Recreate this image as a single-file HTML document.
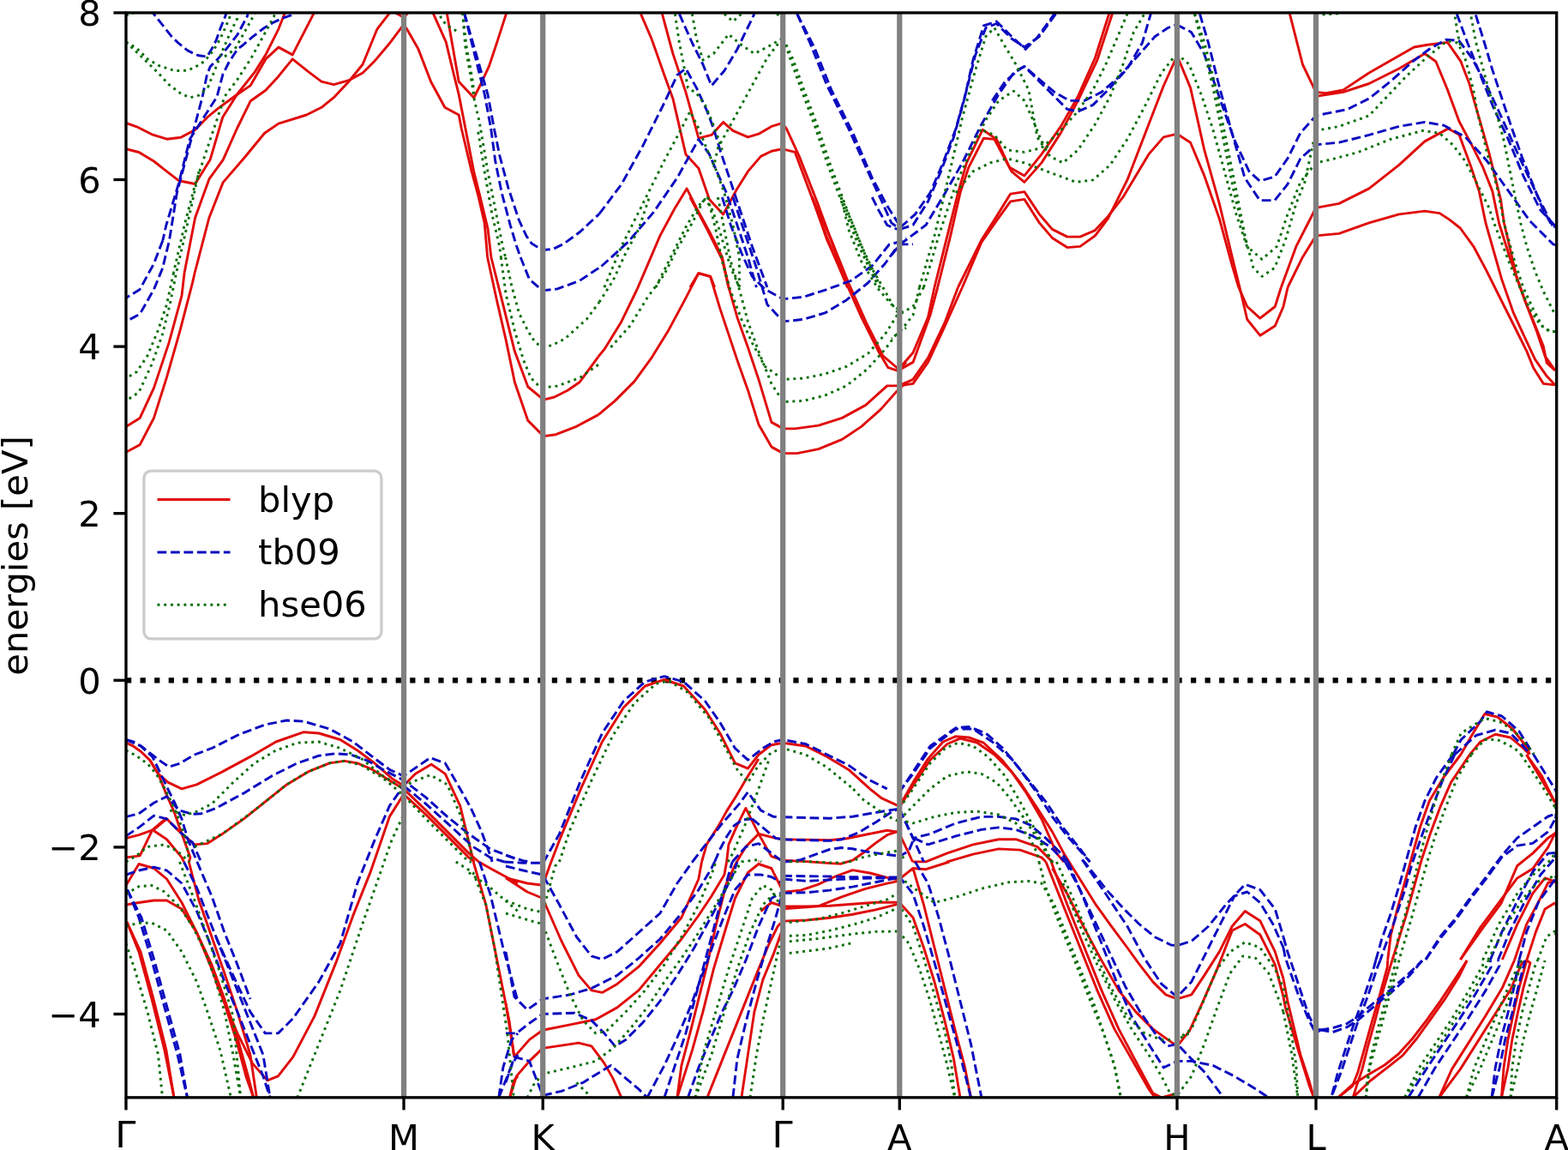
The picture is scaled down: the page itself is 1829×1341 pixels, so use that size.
<!DOCTYPE html><html><head><meta charset="utf-8"><style>html,body{margin:0;padding:0;background:#fff;}svg{display:block;}text{font-family:"DejaVu Sans","Liberation Sans",sans-serif;}</style></head><body>
<svg xmlns="http://www.w3.org/2000/svg" width="1829" height="1341" viewBox="0 0 1829 1341">
<defs><clipPath id="c"><rect x="147.0" y="14.9" width="1668.7" height="1264.8999999999999"/></clipPath></defs>
<rect width="1829" height="1341" fill="#fff"/>
<line x1="147.0" y1="793.3" x2="1815.7" y2="793.3" stroke="#000" stroke-width="6.25" stroke-dasharray="6.25 10.31"/>
<g clip-path="url(#c)" stroke-linejoin="round" stroke-linecap="butt">
<polyline stroke="#e00a0a" stroke-width="2.92" fill="none" points="147.0,143.4 159.5,147.8 178.3,157.2 194.6,162.2 210.9,160.3 227.2,151.6 242.2,136.5 253.5,127.1 274.8,111.5 292.3,99.6 309.9,68.9 324.9,55.1 341.2,63.9 365.6,16.3 367.5,10.0"/>
<polyline stroke="#e00a0a" stroke-width="2.92" fill="none" points="147.0,173.7 162.0,177.5 179.5,188.0 190.0,196.4 208.8,210.8 227.6,214.5 245.1,186.3 259.8,136.5 277.3,109.0 297.3,83.9 309.9,63.9 324.9,33.8 331.8,16.3 332.4,10.0"/>
<polyline stroke="#e00a0a" stroke-width="2.92" fill="none" points="215.1,318.0 227.6,254.0 243.9,208.9 260.2,186.3 276.4,150.0 292.3,117.7 309.9,105.2 324.9,88.9 341.2,68.9 360.0,83.9 375.0,95.2 389.4,98.7 406.9,93.7 423.1,85.0 436.9,71.2 440.0,67.6 453.8,51.3 468.8,31.3 473.8,32.6 487.6,56.4 502.6,95.2 518.9,125.3 535.2,134.0 538.3,150.0"/>
<polyline stroke="#e00a0a" stroke-width="2.92" fill="none" points="227.2,318.0 243.9,254.0 260.2,212.6 285.2,183.8 308.6,155.3 324.9,144.1 357.5,134.0 375.0,125.3 389.4,113.7 406.9,95.0 423.1,75.0 440.0,33.8 456.6,12.3"/>
<polyline stroke="#e00a0a" stroke-width="2.92" fill="none" points="456.6,12.3 471.3,20.6 477.6,12.5"/>
<polyline stroke="#e00a0a" stroke-width="2.92" fill="none" points="503.9,12.5 520.2,48.8 527.7,80.2 535.2,110.2 542.7,148.9"/>
<polyline stroke="#e00a0a" stroke-width="2.92" fill="none" points="520.8,12.5 526.4,45.1 535.2,95.2 552.8,114.0 560.3,99.0 570.3,77.7 580.3,47.6 591.6,12.5"/>
<polyline stroke="#e00a0a" stroke-width="2.92" fill="none" points="538.3,150.0 550.2,200.1 557.7,227.7 565.2,260.2 568.6,300.0"/>
<polyline stroke="#e00a0a" stroke-width="2.92" fill="none" points="542.7,148.9 552.7,200.1 560.2,230.2 569.0,266.5 572.9,300.0"/>
<polyline stroke="#e00a0a" stroke-width="2.92" fill="none" points="568.6,300.0 579.8,351.5 590.1,396.1 600.4,445.8 615.8,490.4 631.3,505.9 636.4,508.4 648.4,506.7 672.4,497.3 698.0,483.6"/>
<polyline stroke="#e00a0a" stroke-width="2.92" fill="none" points="572.9,300.0 586.7,354.9 600.4,409.8 615.8,451.0 631.3,463.8 636.4,465.6 646.7,463.0 662.1,455.3 675.9,445.8 698.0,415.8"/>
<polyline stroke="#e00a0a" stroke-width="2.92" fill="none" points="747.4,16.2 759.9,45.0 774.9,87.5 784.9,114.9 792.4,147.4 799.9,179.9 814.9,196.2 827.4,232.4 843.6,249.9 859.9,219.9 872.4,199.9 887.4,182.4 899.9,176.2 912.3,173.7 927.3,177.4 949.8,237.4 964.8,277.4 988.6,335.1"/>
<polyline stroke="#e00a0a" stroke-width="2.92" fill="none" points="772.4,16.2 784.9,62.5 799.9,107.4 814.9,161.2 829.9,157.4 843.6,142.4 854.9,152.4 872.4,159.9 884.9,156.2 899.9,147.4 912.3,143.7 917.3,149.9 932.3,182.4 954.8,239.9 984.8,322.3 988.6,335.1"/>
<polyline stroke="#e00a0a" stroke-width="2.92" fill="none" points="804.9,335.1 814.9,318.6 828.6,322.3 833.6,335.1"/>
<polyline stroke="#e00a0a" stroke-width="2.92" fill="none" points="743.1,337.5 769.9,274.9 787.4,242.4 801.1,219.9 812.4,242.4 827.4,269.9 842.4,299.9 849.9,335.1"/>
<polyline stroke="#e00a0a" stroke-width="2.92" fill="none" points="698.0,415.8 704.9,407.4 724.9,374.9 743.1,337.5"/>
<polyline stroke="#e00a0a" stroke-width="2.92" fill="none" points="698.0,483.6 717.4,467.4 739.9,444.9 759.9,417.4 779.9,384.9 797.4,352.4 814.9,318.7 828.6,322.5 839.9,359.9 849.9,389.9 859.9,419.9 872.4,454.9 884.9,494.9 899.9,521.1 913.6,528.6 929.8,528.6 954.8,523.6 982.3,512.4 1004.8,497.4 1027.3,477.4 1047.3,454.9 1057.0,446.1"/>
<polyline stroke="#e00a0a" stroke-width="2.92" fill="none" points="804.9,230.0 824.9,267.5 842.4,302.5 849.9,334.9 859.9,369.9 872.4,404.9 884.9,442.4 899.9,492.4 913.6,499.9 927.3,499.9 954.8,496.1 982.3,487.4 1009.8,472.4 1034.8,449.9 1047.3,449.9 1057.0,446.1"/>
<polyline stroke="#e00a0a" stroke-width="2.92" fill="none" points="947.3,230.0 964.8,280.0 984.8,325.0 1004.8,369.9 1024.8,409.9 1036.0,428.7 1047.3,432.4 1057.0,422.4"/>
<polyline stroke="#e00a0a" stroke-width="2.92" fill="none" points="947.3,230.0 969.8,280.0 989.8,330.0 1009.8,374.9 1029.8,414.9 1048.3,430.5"/>
<polyline stroke="#e00a0a" stroke-width="2.92" fill="none" points="1090.0,335.0 1105.0,274.9 1117.5,224.9 1127.5,189.9 1146.2,151.2 1162.4,162.4 1177.4,194.9 1194.9,204.9 1214.9,179.9 1237.4,147.4 1257.4,112.4 1277.4,67.5 1293.6,16.2 1299.2,5.0"/>
<polyline stroke="#e00a0a" stroke-width="2.92" fill="none" points="1093.7,335.0 1108.7,274.9 1120.0,224.9 1130.0,194.9 1147.4,161.2 1159.9,162.4 1179.9,199.9 1194.9,212.4 1214.9,189.9 1237.4,154.9 1257.4,117.4 1279.9,70.0 1297.4,16.2 1299.2,5.0"/>
<polyline stroke="#e00a0a" stroke-width="2.92" fill="none" points="1117.5,335.0 1130.0,309.8 1144.9,279.9 1162.4,252.4 1178.7,226.1 1194.9,223.6 1212.4,249.9 1227.4,267.4 1244.9,276.1 1259.9,276.1 1277.4,268.6 1292.4,252.4 1309.9,229.9 1339.9,179.9 1357.3,159.9 1373.1,156.2 1388.6,166.2 1404.8,204.9 1422.3,254.9 1437.3,309.8 1444.8,335.0"/>
<polyline stroke="#e00a0a" stroke-width="2.92" fill="none" points="1122.5,335.0 1144.9,282.4 1162.4,257.4 1178.7,234.9 1194.9,232.4 1212.4,259.9 1227.4,277.4 1244.9,288.6 1259.9,287.4 1277.4,274.9 1292.4,254.9 1314.9,209.9 1339.9,144.9 1357.3,100.0 1373.1,65.0 1388.6,102.4 1404.8,174.9 1422.3,237.4 1437.3,299.9 1446.0,335.0"/>
<polyline stroke="#e00a0a" stroke-width="2.92" fill="none" points="1504.4,16.2 1519.4,75.0 1534.9,107.4 1546.9,108.7 1566.9,104.9 1596.9,85.0 1631.9,65.0 1649.4,55.0 1665.2,52.3 1688.5,49.4 1704.0,71.7 1713.7,96.9 1721.4,124.1 1729.2,151.2 1736.9,178.3 1744.7,209.4 1750.5,232.6 1754.4,260.0 1769.3,324.2 1782.8,361.0 1792.5,386.3 1802.2,415.4 1813.9,431.9"/>
<polyline stroke="#e00a0a" stroke-width="2.92" fill="none" points="1534.9,112.4 1566.9,107.4 1596.9,97.5 1631.9,80.0 1661.9,62.5 1674.9,71.7 1688.5,104.7 1702.0,141.5 1717.5,170.6 1729.2,193.8 1740.8,222.9 1748.5,260.0 1761.0,300.0 1779.0,351.3 1788.7,374.6 1800.3,403.7 1804.2,423.1 1813.9,431.9"/>
<polyline stroke="#e00a0a" stroke-width="2.92" fill="none" points="1494.4,335.0 1511.9,287.4 1534.9,242.4 1561.9,237.4 1596.9,219.9 1631.9,192.4 1661.9,164.9 1689.3,149.9 1702.0,157.0 1715.6,193.8 1725.3,222.9 1733.0,260.0 1751.8,326.1 1765.4,364.9 1777.0,390.1 1790.6,419.2 1804.2,438.6 1813.9,448.9"/>
<polyline stroke="#e00a0a" stroke-width="2.92" fill="none" points="1502.1,335.0 1519.4,299.9 1534.9,274.9 1561.9,272.4 1596.9,259.9 1631.9,249.9 1661.9,246.1 1679.3,248.6 1690.4,255.9 1703.3,266.0 1718.8,287.3 1734.3,316.4 1749.8,347.5 1765.4,378.5 1780.9,409.6 1788.7,429.0 1800.3,447.4 1813.9,448.9"/>
<polyline stroke="#e00a0a" stroke-width="2.92" fill="none" points="215.1,318.0 212.0,344.9 197.0,399.9 179.5,452.4 163.2,487.4 147.0,497.4"/>
<polyline stroke="#e00a0a" stroke-width="2.92" fill="none" points="227.2,318.0 224.5,329.9 209.5,387.4 194.5,439.9 179.5,487.4 163.2,518.6 147.0,527.3"/>
<polyline stroke="#e00a0a" stroke-width="2.92" fill="none" points="1090.0,335.0 1082.5,370.0 1065.0,411.2 1048.3,430.5"/>
<polyline stroke="#e00a0a" stroke-width="2.92" fill="none" points="1093.7,335.0 1085.0,367.5 1065.0,422.4 1049.2,431.2"/>
<polyline stroke="#e00a0a" stroke-width="2.92" fill="none" points="1117.5,335.0 1102.5,375.0 1082.5,417.4 1065.0,442.4 1049.2,449.9"/>
<polyline stroke="#e00a0a" stroke-width="2.92" fill="none" points="1122.5,335.0 1100.0,385.0 1082.5,422.4 1065.0,447.4 1049.2,449.9"/>
<polyline stroke="#e00a0a" stroke-width="2.92" fill="none" points="1444.8,335.0 1454.8,357.5 1469.8,371.2 1487.3,357.5 1494.4,335.0"/>
<polyline stroke="#e00a0a" stroke-width="2.92" fill="none" points="1446.0,335.0 1454.8,372.5 1469.8,391.2 1487.3,380.0 1497.0,357.5 1502.1,335.0"/>
<polyline stroke="#e00a0a" stroke-width="2.92" fill="none" points="147.0,866.2 155.7,870.2 164.5,876.5 175.2,886.9 184.7,902.7 196.2,912.4 212.0,919.9 229.5,914.9 259.4,899.9 291.9,882.4 321.9,865.0 354.4,853.7 371.9,855.0 396.9,862.5 416.9,875.0 436.9,889.9 456.8,907.4 470.8,916.2 484.3,902.4 503.1,891.2 519.3,902.4 536.8,939.9 551.8,1002.4 552.2,1005.0"/>
<polyline stroke="#e00a0a" stroke-width="2.92" fill="none" points="175.2,886.9 184.7,902.7 194.5,927.4 203.2,946.9 210.5,967.9 222.0,999.9 220.3,1005.0"/>
<polyline stroke="#e00a0a" stroke-width="2.92" fill="none" points="147.0,977.4 162.0,973.7 179.5,967.4 194.5,954.9 209.5,969.9 227.0,984.9 242.0,983.6 259.4,972.4 284.4,954.9 309.4,934.9 334.4,914.9 359.4,899.9 384.4,889.9 401.9,887.4 416.9,889.9 434.4,897.4 454.3,909.9 470.8,919.9 496.8,944.9 521.8,969.9 546.8,994.9 558.5,1005.0"/>
<polyline stroke="#e00a0a" stroke-width="2.92" fill="none" points="470.8,926.2 496.8,949.9 521.8,974.9 546.8,999.9 553.6,1005.0"/>
<polyline stroke="#e00a0a" stroke-width="2.92" fill="none" points="179.5,968.7 194.5,978.7 212.0,999.9 214.5,1005.0"/>
<polyline stroke="#e00a0a" stroke-width="2.92" fill="none" points="147.0,999.9 163.2,997.9 177.7,967.9 194.5,953.7"/>
<polyline stroke="#e00a0a" stroke-width="2.92" fill="none" points="251.9,1144.9 276.9,1204.9 294.4,1239.9 311.9,1259.9 324.4,1254.9 341.9,1232.4 366.9,1184.9 391.9,1122.4 411.9,1067.4 431.9,1017.4 454.3,952.4 470.8,926.2"/>
<polyline stroke="#e00a0a" stroke-width="2.92" fill="none" points="148.0,1075.0 162.0,1109.9 177.0,1164.9 192.0,1224.9 203.0,1279.9"/>
<polyline stroke="#e00a0a" stroke-width="2.92" fill="none" points="148.0,1075.0 164.0,1109.9 179.0,1164.9 194.0,1224.9 203.0,1279.9"/>
<polyline stroke="#e00a0a" stroke-width="2.92" fill="none" points="147.0,1055.0 162.0,1052.5 179.5,1050.0 194.5,1050.0 212.0,1060.0 229.5,1087.5 247.0,1129.9 261.9,1169.9 276.9,1217.4 286.9,1254.9 295.7,1279.9"/>
<polyline stroke="#e00a0a" stroke-width="2.92" fill="none" points="147.0,1032.5 162.0,1007.5 179.5,1012.5 194.5,1025.0 212.0,1052.5 229.5,1087.5 247.0,1124.9 261.9,1164.9 276.9,1209.9 289.4,1254.9 295.7,1279.9"/>
<polyline stroke="#e00a0a" stroke-width="2.92" fill="none" points="220.3,1005.0 232.0,1050.0 247.0,1092.5 261.9,1134.9 276.9,1179.9 291.9,1229.9 299.4,1279.9"/>
<polyline stroke="#e00a0a" stroke-width="2.92" fill="none" points="552.2,1005.0 566.8,1055.0 581.8,1129.9 594.3,1192.4 599.3,1229.9 604.0,1232.4"/>
<polyline stroke="#e00a0a" stroke-width="2.92" fill="none" points="558.5,1005.0 571.8,1012.5 604.0,1030.0"/>
<polyline stroke="#e00a0a" stroke-width="2.92" fill="none" points="594.6,1279.9 599.3,1259.9 604.0,1254.9"/>
<polyline stroke="#e00a0a" stroke-width="2.92" fill="none" points="642.9,1005.0 652.5,979.9 677.5,919.9 702.4,865.0 727.4,825.0 736.8,815.6 752.4,800.0 774.9,792.5 797.4,800.0 822.4,827.5 839.9,855.0 857.4,889.9 872.4,896.2 884.9,880.0 899.8,868.7 913.1,866.2 939.8,870.0 964.8,882.4 989.8,897.4 1014.4,919.6"/>
<polyline stroke="#e00a0a" stroke-width="2.92" fill="none" points="818.5,1005.0 824.4,984.4 837.9,963.4 847.6,945.9 857.4,930.4 872.4,904.9 884.9,884.9"/>
<polyline stroke="#e00a0a" stroke-width="2.92" fill="none" points="847.6,1005.0 849.9,984.9 859.9,962.4 869.9,942.4 884.9,972.4 899.8,998.6 913.6,1003.2"/>
<polyline stroke="#e00a0a" stroke-width="2.92" fill="none" points="859.3,1005.0 869.9,987.4 884.9,972.4 904.8,977.4 913.6,978.9"/>
<polyline stroke="#e00a0a" stroke-width="2.92" fill="none" points="884.8,1005.0 884.9,1004.9 885.1,1005.0"/>
<polyline stroke="#e00a0a" stroke-width="2.92" fill="none" points="590.0,1023.7 615.0,1030.0 633.0,1032.2"/>
<polyline stroke="#e00a0a" stroke-width="2.92" fill="none" points="633.0,1032.2 642.9,1005.0"/>
<polyline stroke="#e00a0a" stroke-width="2.92" fill="none" points="590.0,1023.7 615.0,1040.0 633.0,1047.5 655.0,1097.5 675.0,1137.4 690.0,1154.9 702.4,1157.4 719.9,1147.4 744.9,1127.4 769.9,1100.0 794.9,1070.0 814.9,1025.0 818.5,1005.0"/>
<polyline stroke="#e00a0a" stroke-width="2.92" fill="none" points="590.0,1169.9 600.0,1232.4 617.5,1212.4 633.0,1201.2 665.0,1194.9 694.9,1188.7 719.9,1174.9 744.9,1154.9 769.9,1124.9 794.9,1095.0 814.9,1067.5 829.9,1045.0 844.9,1020.0 847.6,1005.0"/>
<polyline stroke="#e00a0a" stroke-width="2.92" fill="none" points="594.6,1279.9 602.5,1254.9 617.5,1237.4 633.0,1222.4 675.0,1216.1 690.0,1219.9 704.9,1239.9 714.9,1257.4 724.9,1279.9"/>
<polyline stroke="#e00a0a" stroke-width="2.92" fill="none" points="789.9,1279.9 794.9,1242.4 804.9,1204.9 814.9,1164.9 824.9,1124.9 834.9,1080.0 847.4,1030.0 859.3,1005.0"/>
<polyline stroke="#e00a0a" stroke-width="2.92" fill="none" points="789.9,1279.9 807.4,1224.9 819.9,1179.9 832.4,1129.9 847.4,1080.0 857.4,1047.5 872.4,1017.5 884.9,1007.5 899.8,1012.5 909.8,1032.5 913.1,1038.7"/>
<polyline stroke="#e00a0a" stroke-width="2.92" fill="none" points="824.9,1279.9 839.9,1242.4 854.9,1204.9 869.9,1167.4 884.9,1129.9 897.3,1100.0 907.3,1080.0 913.1,1074.1"/>
<polyline stroke="#e00a0a" stroke-width="2.92" fill="none" points="864.9,1279.9 872.4,1229.9 879.9,1179.9 889.9,1142.4 902.3,1112.4 913.1,1082.5"/>
<polyline stroke="#e00a0a" stroke-width="2.92" fill="none" points="887.4,1062.5 899.8,1052.5 913.1,1056.9"/>
<polyline stroke="#e00a0a" stroke-width="2.92" fill="none" points="913.1,1007.5 914.1,1007.5"/>
<polyline stroke="#e00a0a" stroke-width="2.92" fill="none" points="913.1,1038.7 913.6,1040.3"/>
<polyline stroke="#e00a0a" stroke-width="2.92" fill="none" points="913.1,1059.9 914.1,1059.9"/>
<polyline stroke="#e00a0a" stroke-width="2.92" fill="none" points="913.1,1063.7 914.1,1059.9"/>
<polyline stroke="#e00a0a" stroke-width="2.92" fill="none" points="913.1,1082.5 914.1,1077.3"/>
<polyline stroke="#e00a0a" stroke-width="2.92" fill="none" points="1047.7,939.7 1049.2,939.9 1065.0,912.4 1082.5,884.9 1100.0,865.0 1115.0,858.7 1130.0,860.0 1147.4,866.2 1169.9,887.4 1189.9,912.4 1209.9,942.4 1227.4,969.9 1241.1,995.4 1241.0,1005.0"/>
<polyline stroke="#e00a0a" stroke-width="2.92" fill="none" points="1049.2,941.2 1065.0,916.2 1085.0,886.2 1105.0,867.5 1120.0,861.2 1140.0,866.2 1159.9,880.0 1179.9,899.9 1197.4,924.9 1214.9,954.9 1232.4,994.9 1241.0,1005.0"/>
<polyline stroke="#e00a0a" stroke-width="2.92" fill="none" points="1064.5,1005.0 1065.0,1004.9 1080.0,1004.9 1105.0,994.9 1135.0,984.9 1164.9,978.7 1184.9,978.7 1209.9,987.4 1227.4,1004.9 1226.2,1005.0"/>
<polyline stroke="#e00a0a" stroke-width="2.92" fill="none" points="1107.3,1005.0 1105.0,1004.9 1135.0,996.1 1164.9,989.9 1189.9,991.1 1214.9,999.9 1220.0,1005.0"/>
<polyline stroke="#e00a0a" stroke-width="2.92" fill="none" points="1047.7,970.4 1049.2,972.4 1060.0,994.9 1064.5,1005.0"/>
<polyline stroke="#e00a0a" stroke-width="2.92" fill="none" points="1047.7,1052.2 1049.2,1052.5 1065.0,1070.0 1077.5,1105.0 1090.0,1144.9 1102.5,1192.4 1112.5,1234.9 1120.0,1279.9"/>
<polyline stroke="#e00a0a" stroke-width="2.92" fill="none" points="1047.7,1025.8 1049.2,1025.0 1065.0,1012.5 1077.5,1055.0 1115.0,1204.9 1125.0,1242.4 1132.5,1279.9"/>
<polyline stroke="#e00a0a" stroke-width="2.92" fill="none" points="1065.0,1012.5 1080.0,1013.7 1107.3,1005.0"/>
<polyline stroke="#e00a0a" stroke-width="2.92" fill="none" points="1241.1,995.5 1259.9,1025.5 1278.4,1055.2 1297.1,1081.2 1314.9,1105.0 1327.4,1122.4 1344.8,1144.9 1359.8,1159.9 1373.1,1164.9 1389.8,1159.9 1404.8,1137.4 1422.3,1109.9 1437.3,1080.0 1452.3,1062.5 1469.8,1073.7 1487.3,1109.9 1497.0,1141.2"/>
<polyline stroke="#e00a0a" stroke-width="2.92" fill="none" points="1227.4,1012.5 1244.9,1042.5 1264.9,1082.5 1284.9,1119.9 1304.9,1154.9 1324.9,1179.9 1344.8,1199.9 1362.3,1212.4 1373.1,1219.9 1387.3,1202.4 1402.3,1169.9 1419.8,1129.9 1437.3,1085.0 1452.3,1077.5 1469.8,1090.0 1487.3,1124.9 1497.0,1162.4"/>
<polyline stroke="#e00a0a" stroke-width="2.92" fill="none" points="1220.0,1005.0 1239.9,1055.0 1259.9,1105.0 1279.9,1154.9 1299.9,1199.9 1319.9,1234.9 1339.9,1269.9 1347.3,1279.9"/>
<polyline stroke="#e00a0a" stroke-width="2.92" fill="none" points="1226.2,1005.0 1244.9,1055.0 1264.9,1105.0 1284.9,1154.9 1304.9,1199.9 1327.4,1242.4 1344.8,1274.9 1354.8,1279.9 1373.1,1274.9"/>
<polyline stroke="#e00a0a" stroke-width="2.92" fill="none" points="1704.2,879.5 1716.8,857.5 1731.8,832.5 1746.8,836.2 1764.3,850.0 1781.8,872.5 1784.2,879.7"/>
<polyline stroke="#e00a0a" stroke-width="2.92" fill="none" points="1814.1,936.9 1815.5,939.9"/>
<polyline stroke="#e00a0a" stroke-width="2.92" fill="none" points="1714.6,879.6 1726.8,865.0 1744.3,856.2 1761.8,860.0 1776.8,872.5 1784.2,879.7"/>
<polyline stroke="#e00a0a" stroke-width="2.92" fill="none" points="1814.1,936.9 1815.5,939.9"/>
<polyline stroke="#e00a0a" stroke-width="2.92" fill="none" points="1814.1,971.9 1815.5,969.9"/>
<polyline stroke="#e00a0a" stroke-width="2.92" fill="none" points="1814.1,971.9 1815.5,969.9"/>
<polyline stroke="#e00a0a" stroke-width="2.92" fill="none" points="1497.0,1141.2 1501.9,1167.4 1516.9,1229.9 1526.9,1259.9 1532.5,1279.9"/>
<polyline stroke="#e00a0a" stroke-width="2.92" fill="none" points="1497.0,1162.4 1499.4,1174.9 1514.4,1224.9 1526.9,1264.9 1532.5,1279.9"/>
<polyline stroke="#e00a0a" stroke-width="2.92" fill="none" points="1814.2,1028.0 1815.5,1028.7"/>
<polyline stroke="#e00a0a" stroke-width="2.92" fill="none" points="1814.1,1028.0 1815.5,1028.7"/>
<polyline stroke="#e00a0a" stroke-width="2.92" fill="none" points="1815.0,1055.2 1814.9,1056.0"/>
<polyline stroke="#e00a0a" stroke-width="2.92" fill="none" points="1814.9,1056.0 1815.0,1055.2"/>
<polyline stroke="#e00a0a" stroke-width="2.92" fill="none" points="913.6,978.9 940.8,979.1 967.7,979.7 987.8,977.7 1014.6,972.3 1034.8,968.3 1047.7,970.4"/>
<polyline stroke="#e00a0a" stroke-width="2.92" fill="none" points="913.6,1003.2 940.8,1004.6 967.7,1006.6 981.1,1007.2 994.5,1003.2 1007.9,993.8 1021.3,983.1 1034.8,973.7 1048.2,969.0"/>
<polyline stroke="#e00a0a" stroke-width="2.92" fill="none" points="913.6,1040.3 934.1,1038.1 954.2,1031.4 974.4,1022.0 994.5,1014.6 1014.6,1018.0 1034.8,1023.4 1047.7,1025.8"/>
<polyline stroke="#e00a0a" stroke-width="2.92" fill="none" points="913.1,1056.9 940.8,1056.9 967.7,1056.2 994.5,1054.2 1021.3,1052.2 1047.7,1052.2"/>
<polyline stroke="#e00a0a" stroke-width="2.92" fill="none" points="913.1,1059.9 954.2,1056.9 981.1,1046.2 1007.9,1036.8 1034.8,1030.1 1048.2,1027.4"/>
<polyline stroke="#e00a0a" stroke-width="2.92" fill="none" points="913.1,1074.1 940.8,1073.0 967.7,1070.3 994.5,1066.3 1021.3,1060.9 1048.2,1054.2"/>
<polyline stroke="#e00a0a" stroke-width="2.92" fill="none" points="1014.4,919.6 1028.1,930.7 1047.7,939.7"/>
<polyline stroke="#e00a0a" stroke-width="2.92" fill="none" points="1704.2,879.5 1683.5,907.0 1667.3,934.0 1656.5,964.5 1629.5,1061.7 1622.3,1090.5 1618.7,1119.5"/>
<polyline stroke="#e00a0a" stroke-width="2.92" fill="none" points="1714.6,879.6 1692.5,912.4 1679.9,941.2 1669.1,969.9 1658.3,1002.3 1640.3,1067.1 1624.0,1119.5"/>
<polyline stroke="#e00a0a" stroke-width="2.92" fill="none" points="1703.5,1119.0 1726.7,1081.5 1769.8,1023.9 1787.8,1013.1 1805.8,987.9 1813.9,971.7"/>
<polyline stroke="#e00a0a" stroke-width="2.92" fill="none" points="1703.5,1119.0 1729.4,1082.4 1750.9,1053.6 1769.8,1009.5 1787.8,995.1 1805.8,977.1 1813.9,971.7"/>
<polyline stroke="#e00a0a" stroke-width="2.92" fill="none" points="1752.3,1119.0 1769.8,1077.9 1787.8,1041.9 1802.2,1023.9 1814.1,1028.0"/>
<polyline stroke="#e00a0a" stroke-width="2.92" fill="none" points="1766.6,1119.5 1780.6,1077.9 1795.0,1050.9 1805.8,1029.3 1814.2,1028.0"/>
<polyline stroke="#e00a0a" stroke-width="2.92" fill="none" points="1780.9,1119.5 1791.4,1086.9 1802.2,1059.9 1813.9,1052.7"/>
<polyline stroke="#e00a0a" stroke-width="2.92" fill="none" points="1780.6,880.0 1796.8,907.0 1813.9,935.8"/>
<polyline stroke="#e00a0a" stroke-width="2.92" fill="none" points="1780.6,880.0 1798.6,905.2 1813.9,935.8"/>
<polyline stroke="#e00a0a" stroke-width="2.92" fill="none" points="1618.7,1119.5 1618.3,1127.6 1608.5,1163.6 1600.3,1191.4 1592.1,1220.8 1583.9,1250.2 1577.4,1266.6 1561.1,1279.6"/>
<polyline stroke="#e00a0a" stroke-width="2.92" fill="none" points="1624.0,1119.5 1621.5,1127.6 1611.7,1160.3 1603.6,1191.4 1595.4,1220.8 1588.9,1246.9 1582.3,1266.6 1578.2,1279.6"/>
<polyline stroke="#e00a0a" stroke-width="2.92" fill="none" points="1561.1,1279.6 1577.4,1264.9 1595.4,1253.5 1615.0,1242.0 1631.4,1229.0 1647.7,1211.0 1664.1,1189.7 1680.4,1166.8 1696.7,1142.3 1711.1,1120.0"/>
<polyline stroke="#e00a0a" stroke-width="2.92" fill="none" points="1578.2,1279.6 1598.7,1260.0 1619.9,1243.7 1636.3,1230.6 1652.6,1211.0 1669.0,1188.1 1685.3,1165.2 1701.7,1139.0 1711.1,1120.0"/>
<polyline stroke="#e00a0a" stroke-width="2.92" fill="none" points="1678.8,1279.6 1693.5,1246.9 1713.1,1215.9 1732.7,1184.8 1752.3,1152.1 1766.6,1119.5"/>
<polyline stroke="#e00a0a" stroke-width="2.92" fill="none" points="1678.8,1279.6 1703.3,1246.9 1722.9,1215.9 1742.5,1184.8 1762.1,1153.8 1775.2,1122.7 1780.9,1120.0"/>
<polyline stroke="#e00a0a" stroke-width="2.92" fill="none" points="1751.5,1279.6 1754.0,1245.3 1758.9,1212.6 1765.4,1181.5 1771.9,1152.1 1780.1,1122.7 1780.9,1119.5"/>
<polyline stroke="#e00a0a" stroke-width="2.92" fill="none" points="1751.5,1279.6 1758.9,1245.3 1763.8,1212.6 1770.3,1181.5 1776.9,1152.1 1785.0,1122.7 1780.9,1120.0"/>
<polyline stroke="#0a0ac0" stroke-width="2.92" fill="none" stroke-dasharray="10.8 4.67" points="175.0,10.0 180.8,18.1 200.0,42.3 207.7,49.9 219.2,59.2 230.7,64.5 241.5,66.1 247.6,56.1 252.2,46.9 256.8,33.8 263.0,18.4 265.3,10.0"/>
<polyline stroke="#0a0ac0" stroke-width="2.92" fill="none" stroke-dasharray="10.8 4.67" points="340.0,17.7 330.6,20.8 319.0,26.1 307.5,33.0 294.5,43.0 282.9,53.0 276.8,57.6 266.8,73.0 259.9,86.8 253.0,113.0 221.3,162.5 208.8,212.6 193.8,262.8 189.9,280.3"/>
<polyline stroke="#0a0ac0" stroke-width="2.92" fill="none" stroke-dasharray="10.8 4.67" points="290.6,10.0 288.3,19.2 276.8,40.7 263.0,58.4 253.8,69.1 245.3,77.6 241.5,86.8 236.1,113.0 206.3,225.2 197.5,280.3 189.6,312.9"/>
<polyline stroke="#0a0ac0" stroke-width="2.92" fill="none" stroke-dasharray="10.8 4.67" points="541.5,15.0 565.3,110.2 572.7,150.0"/>
<polyline stroke="#0a0ac0" stroke-width="2.92" fill="none" stroke-dasharray="10.8 4.67" points="541.5,15.0 569.0,110.2 576.4,150.0"/>
<polyline stroke="#0a0ac0" stroke-width="2.92" fill="none" stroke-dasharray="10.8 4.67" points="572.7,150.0 577.7,187.6 585.3,225.2 595.3,262.8 602.8,287.8 607.2,300.0"/>
<polyline stroke="#0a0ac0" stroke-width="2.92" fill="none" stroke-dasharray="10.8 4.67" points="576.4,150.0 582.8,181.3 592.8,218.9 605.3,256.5 614.1,275.3 620.3,284.1 632.9,291.6 645.4,290.3 657.9,284.1 676.7,270.3 699.0,249.4"/>
<polyline stroke="#0a0ac0" stroke-width="2.92" fill="none" stroke-dasharray="10.8 4.67" points="607.2,300.0 617.5,325.7 629.5,336.0 634.7,338.6 650.1,336.9 675.9,327.4 701.5,310.5"/>
<polyline stroke="#0a0ac0" stroke-width="2.92" fill="none" stroke-dasharray="10.8 4.67" points="699.0,249.4 724.9,214.9 749.9,169.9 774.9,119.9 789.9,87.5 799.9,80.0 812.4,102.4 824.9,129.9 832.4,149.9 839.9,174.9 852.4,212.4 864.9,249.9 877.4,287.4 894.9,335.1"/>
<polyline stroke="#0a0ac0" stroke-width="2.92" fill="none" stroke-dasharray="10.8 4.67" points="701.5,310.5 732.4,282.4 762.4,247.4 789.9,207.4 814.9,162.4 827.4,179.9 834.9,197.4 847.4,224.9 859.9,262.4 872.4,299.9 882.4,335.1"/>
<polyline stroke="#0a0ac0" stroke-width="2.92" fill="none" stroke-dasharray="10.8 4.67" points="792.4,16.2 807.4,50.0 819.9,75.0 829.9,100.0 844.9,82.5 859.9,57.5 879.9,16.2"/>
<polyline stroke="#0a0ac0" stroke-width="2.92" fill="none" stroke-dasharray="10.8 4.67" points="929.8,16.2 944.8,50.0 964.8,100.0 989.8,149.9 1012.3,199.9 1029.8,237.4 1039.8,259.9 1049.9,267.4"/>
<polyline stroke="#0a0ac0" stroke-width="2.92" fill="none" stroke-dasharray="10.8 4.67" points="929.8,16.2 949.8,55.0 969.8,104.9 994.8,154.9 1017.3,207.4 1034.8,239.9 1050.5,264.9"/>
<polyline stroke="#0a0ac0" stroke-width="2.92" fill="none" stroke-dasharray="10.8 4.67" points="1017.3,230.0 1024.8,245.0 1034.8,262.5 1047.3,267.5"/>
<polyline stroke="#0a0ac0" stroke-width="2.92" fill="none" stroke-dasharray="10.8 4.67" points="842.4,230.0 852.4,262.5 864.9,295.0 877.4,322.5 892.4,337.4 913.6,348.7 937.3,346.2 964.8,337.4 992.3,327.5 1017.3,310.0 1037.3,285.0 1047.3,282.5 1057.0,277.5"/>
<polyline stroke="#0a0ac0" stroke-width="2.92" fill="none" stroke-dasharray="10.8 4.67" points="854.9,230.0 864.9,260.0 874.9,290.0 882.4,312.5 894.9,354.9 913.6,374.9 937.3,372.4 962.3,364.9 987.3,349.9 1012.3,330.0 1032.3,307.5 1048.6,284.9"/>
<polyline stroke="#0a0ac0" stroke-width="2.92" fill="none" stroke-dasharray="10.8 4.67" points="1049.9,267.4 1065.0,262.4 1082.5,234.9 1097.5,199.9 1112.5,159.9 1125.0,114.9 1135.0,70.0 1147.4,30.0 1162.4,25.0 1179.9,42.5 1196.2,57.5 1209.9,43.7 1229.9,16.2 1237.4,5.0"/>
<polyline stroke="#0a0ac0" stroke-width="2.92" fill="none" stroke-dasharray="10.8 4.67" points="1050.5,264.9 1067.5,249.9 1085.0,224.9 1100.0,189.9 1115.0,149.9 1127.5,104.9 1137.5,65.0 1149.9,32.5 1162.4,27.5 1179.9,45.0 1194.9,55.0 1212.4,42.5 1232.4,15.0"/>
<polyline stroke="#0a0ac0" stroke-width="2.92" fill="none" stroke-dasharray="10.8 4.67" points="1040.0,297.4 1050.0,284.9 1080.0,262.4 1102.5,224.9 1122.5,189.9 1144.9,144.9 1164.9,109.9 1182.4,85.0 1194.9,77.5 1212.4,92.5 1229.9,107.4 1247.4,117.4 1264.9,117.4 1284.9,107.4 1304.9,90.0 1327.4,65.0 1347.3,42.5 1362.3,32.5 1372.5,28.7"/>
<polyline stroke="#0a0ac0" stroke-width="2.92" fill="none" stroke-dasharray="10.8 4.67" points="1048.6,284.9 1065.0,284.9"/>
<polyline stroke="#0a0ac0" stroke-width="2.92" fill="none" stroke-dasharray="10.8 4.67" points="1157.4,117.4 1172.4,95.0 1189.9,80.0 1194.9,77.5 1214.9,97.5 1229.9,112.4 1244.9,127.4 1257.4,129.9 1274.9,122.4 1294.9,102.4 1314.9,80.0 1332.4,50.0 1342.3,16.2 1346.1,5.0"/>
<polyline stroke="#0a0ac0" stroke-width="2.92" fill="none" stroke-dasharray="10.8 4.67" points="1372.5,28.7 1389.5,37.5 1404.5,62.5 1422.0,112.4 1439.5,162.4 1457.0,199.9 1469.5,211.1 1486.9,206.1 1501.9,184.9 1516.9,154.9 1534.9,134.9 1546.9,132.4 1571.9,127.4 1596.9,114.9 1621.9,95.0 1646.9,72.5 1666.9,57.5 1686.8,46.2 1701.8,47.5 1716.8,67.5 1734.3,100.0 1751.8,137.4 1771.8,182.4 1791.8,224.9 1811.8,264.9 1818.9,268.9"/>
<polyline stroke="#0a0ac0" stroke-width="2.92" fill="none" stroke-dasharray="10.8 4.67" points="1399.5,16.2 1409.5,50.0 1422.0,100.0 1437.0,154.9 1452.0,207.4 1469.5,233.6 1486.9,233.6 1501.9,214.9 1516.9,184.9 1534.9,168.7 1561.9,166.2 1596.9,157.4 1631.9,147.4 1661.9,142.4 1684.3,146.2 1709.3,159.9 1734.3,187.4 1759.3,222.4 1784.3,257.4 1811.8,284.9 1821.8,287.4"/>
<polyline stroke="#0a0ac0" stroke-width="2.92" fill="none" stroke-dasharray="10.8 4.67" points="1699.3,16.2 1711.8,50.0 1726.8,87.5 1741.8,124.9 1759.3,162.4 1776.8,204.9 1796.8,244.9 1815.5,264.9"/>
<polyline stroke="#0a0ac0" stroke-width="2.92" fill="none" stroke-dasharray="10.8 4.67" points="1721.4,17.4 1731.1,48.5 1740.8,81.4 1752.4,116.3 1764.1,151.2 1775.7,184.1 1787.3,213.2 1798.9,242.3 1808.6,260.0 1818.9,268.9"/>
<polyline stroke="#0a0ac0" stroke-width="2.92" fill="none" stroke-dasharray="10.8 4.67" points="189.9,280.3 179.5,307.4 163.2,337.4 147.0,347.4"/>
<polyline stroke="#0a0ac0" stroke-width="2.92" fill="none" stroke-dasharray="10.8 4.67" points="189.6,312.9 179.5,337.4 163.2,366.2 147.0,374.9"/>
<polyline stroke="#0a0ac0" stroke-width="2.92" fill="none" stroke-dasharray="10.8 4.67" points="147.0,862.5 155.7,865.0 164.5,870.0 176.2,879.2 187.0,887.4 197.0,894.2 209.5,890.4 227.0,880.0 247.0,872.5 279.4,856.2 309.4,845.0 334.4,840.0 354.4,841.2 384.4,850.0 411.9,865.0 434.4,882.4 454.3,897.4 470.8,904.9 481.8,897.4 501.8,883.7 519.3,889.9 536.8,919.9 549.3,942.4 561.8,969.9 571.8,997.4 574.1,1005.0"/>
<polyline stroke="#0a0ac0" stroke-width="2.92" fill="none" stroke-dasharray="10.8 4.67" points="147.0,862.5 164.5,870.2 177.7,882.4 185.7,898.7 194.5,917.4 203.2,934.9 212.0,954.9 219.5,979.9 229.9,1005.0"/>
<polyline stroke="#0a0ac0" stroke-width="2.92" fill="none" stroke-dasharray="10.8 4.67" points="147.0,952.4 162.0,948.7 179.5,936.2 194.5,928.7 208.7,944.9 224.5,949.4 235.0,948.7 251.9,942.4 284.4,924.9 316.9,904.9 346.9,889.9 371.9,881.2 391.9,878.7 409.4,880.0 429.4,887.4 446.9,897.4 470.8,909.9 496.8,929.9 521.8,952.4 546.8,972.4 571.8,989.9 604.0,1002.4"/>
<polyline stroke="#0a0ac0" stroke-width="2.92" fill="none" stroke-dasharray="10.8 4.67" points="470.8,916.2 496.8,937.4 521.8,959.9 551.8,987.4 571.8,999.9 588.2,1005.0"/>
<polyline stroke="#0a0ac0" stroke-width="2.92" fill="none" stroke-dasharray="10.8 4.67" points="147.0,974.9 162.0,964.9 179.5,951.2 194.5,954.9 209.5,969.9 224.5,982.4 234.5,1004.9 234.5,1005.0"/>
<polyline stroke="#0a0ac0" stroke-width="2.92" fill="none" stroke-dasharray="10.8 4.67" points="251.9,1092.5 271.9,1137.4 291.9,1179.9 309.4,1204.9 324.4,1204.9 341.9,1187.4 371.9,1144.9 396.9,1100.0 416.9,1029.9 436.9,979.9 454.3,939.9 470.8,916.2"/>
<polyline stroke="#0a0ac0" stroke-width="2.92" fill="none" stroke-dasharray="10.8 4.67" points="148.5,1037.5 162.0,1070.0 177.0,1119.9 192.0,1174.9 207.0,1229.9 218.5,1279.9"/>
<polyline stroke="#0a0ac0" stroke-width="2.92" fill="none" stroke-dasharray="10.8 4.67" points="148.5,1037.5 165.0,1070.0 180.0,1119.9 195.0,1174.9 210.0,1229.9 218.5,1279.9"/>
<polyline stroke="#0a0ac0" stroke-width="2.92" fill="none" stroke-dasharray="10.8 4.67" points="147.0,1020.0 162.0,1015.0 179.5,1011.2 194.5,1015.0 212.0,1030.0 229.5,1062.5 247.0,1105.0 261.9,1144.9 276.9,1179.9 291.9,1217.4 306.9,1254.9 315.0,1279.9"/>
<polyline stroke="#0a0ac0" stroke-width="2.92" fill="none" stroke-dasharray="10.8 4.67" points="214.5,1005.0 229.5,1035.0 247.0,1080.0 261.9,1117.4 276.9,1154.9 291.9,1192.4 306.9,1229.9 315.0,1279.9"/>
<polyline stroke="#0a0ac0" stroke-width="2.92" fill="none" stroke-dasharray="10.8 4.67" points="229.9,1005.0 247.0,1045.0 261.9,1087.5 276.9,1124.9 291.9,1164.9"/>
<polyline stroke="#0a0ac0" stroke-width="2.92" fill="none" stroke-dasharray="10.8 4.67" points="559.3,1005.0 571.8,1042.5 586.8,1105.0 604.0,1167.4"/>
<polyline stroke="#0a0ac0" stroke-width="2.92" fill="none" stroke-dasharray="10.8 4.67" points="581.8,1279.9 586.8,1244.9 596.8,1212.4 604.0,1204.9"/>
<polyline stroke="#0a0ac0" stroke-width="2.92" fill="none" stroke-dasharray="10.8 4.67" points="581.8,1279.9 596.8,1242.4 604.0,1229.9"/>
<polyline stroke="#0a0ac0" stroke-width="2.92" fill="none" stroke-dasharray="10.8 4.67" points="590.0,997.4 610.0,1003.6 618.3,1005.0"/>
<polyline stroke="#0a0ac0" stroke-width="2.92" fill="none" stroke-dasharray="10.8 4.67" points="633.6,1006.2 652.5,972.4 677.5,909.9 702.4,855.0 727.4,817.5 752.4,795.0 774.9,788.7 797.4,795.0 822.4,817.5 839.9,842.5 857.4,872.5 872.4,886.2 889.9,872.5 902.3,865.0 913.1,862.5 939.8,867.5 989.8,892.4 1014.8,909.9 1034.8,919.9"/>
<polyline stroke="#0a0ac0" stroke-width="2.92" fill="none" stroke-dasharray="10.8 4.67" points="807.7,1005.0 816.9,992.9 841.6,961.2 862.4,937.4 872.4,923.7 887.4,944.9 902.3,952.4 913.6,952.7"/>
<polyline stroke="#0a0ac0" stroke-width="2.92" fill="none" stroke-dasharray="10.8 4.67" points="877.4,954.9 904.8,977.4 913.6,978.9"/>
<polyline stroke="#0a0ac0" stroke-width="2.92" fill="none" stroke-dasharray="10.8 4.67" points="854.2,1005.0 869.9,987.4 884.9,983.6 913.1,1004.9 913.6,1005.3"/>
<polyline stroke="#0a0ac0" stroke-width="2.92" fill="none" stroke-dasharray="10.8 4.67" points="588.2,1005.0 610.0,1006.2 633.6,1006.2"/>
<polyline stroke="#0a0ac0" stroke-width="2.92" fill="none" stroke-dasharray="10.8 4.67" points="590.0,1010.0 615.0,1016.2 633.0,1020.0 652.5,1055.0 672.5,1092.5 690.0,1114.9 702.4,1118.7 719.9,1109.9 744.9,1087.5 769.9,1065.0 789.9,1030.0 807.7,1005.0"/>
<polyline stroke="#0a0ac0" stroke-width="2.92" fill="none" stroke-dasharray="10.8 4.67" points="590.0,1109.9 600.0,1162.4 615.0,1177.4 633.0,1164.9 665.0,1159.9 690.0,1152.4 719.9,1137.4 744.9,1117.4 769.9,1095.0 794.9,1065.0 814.9,1037.5 829.9,1012.5 833.6,1005.0"/>
<polyline stroke="#0a0ac0" stroke-width="2.92" fill="none" stroke-dasharray="10.8 4.67" points="590.0,1204.9 602.5,1204.9 615.0,1194.9 633.0,1182.4 670.0,1181.2 690.0,1189.9 704.9,1204.9 717.4,1219.9 729.9,1212.4 749.9,1192.4 769.9,1167.4 789.9,1137.4 809.9,1105.0 824.9,1077.5 839.9,1050.0 854.9,1020.0 859.9,1005.0"/>
<polyline stroke="#0a0ac0" stroke-width="2.92" fill="none" stroke-dasharray="10.8 4.67" points="590.0,1262.4 600.0,1232.4 617.5,1237.4 633.0,1277.4 655.0,1272.4 680.0,1262.4 712.4,1242.4 729.9,1257.4 744.9,1269.9 754.9,1279.9"/>
<polyline stroke="#0a0ac0" stroke-width="2.92" fill="none" stroke-dasharray="10.8 4.67" points="754.9,1279.9 774.9,1242.4 789.9,1209.9 804.9,1174.9 819.9,1134.9 832.4,1100.0 844.9,1067.5 857.4,1037.5 872.4,1020.0 887.4,1020.0 899.8,1022.5 913.1,1030.0"/>
<polyline stroke="#0a0ac0" stroke-width="2.92" fill="none" stroke-dasharray="10.8 4.67" points="774.9,1279.9 787.4,1242.4 799.9,1204.9 809.9,1167.4 819.9,1129.9 829.9,1092.5 839.9,1055.0 849.9,1020.0 854.2,1005.0"/>
<polyline stroke="#0a0ac0" stroke-width="2.92" fill="none" stroke-dasharray="10.8 4.67" points="802.4,1279.9 814.9,1244.9 827.4,1214.9 842.4,1179.9 854.9,1154.9 869.9,1119.9 884.9,1080.0 899.8,1047.5 913.1,1040.0"/>
<polyline stroke="#0a0ac0" stroke-width="2.92" fill="none" stroke-dasharray="10.8 4.67" points="854.9,1279.9 859.9,1234.9 869.9,1192.4 882.4,1144.9 894.8,1102.5 904.8,1070.0 913.1,1040.0"/>
<polyline stroke="#0a0ac0" stroke-width="2.92" fill="none" stroke-dasharray="10.8 4.67" points="913.1,1021.3 913.6,1025.0"/>
<polyline stroke="#0a0ac0" stroke-width="2.92" fill="none" stroke-dasharray="10.8 4.67" points="913.1,1030.0 914.1,1030.0"/>
<polyline stroke="#0a0ac0" stroke-width="2.92" fill="none" stroke-dasharray="10.8 4.67" points="913.1,1041.4 914.1,1041.2"/>
<polyline stroke="#0a0ac0" stroke-width="2.92" fill="none" stroke-dasharray="10.8 4.67" points="1048.2,924.0 1049.2,923.7 1085.0,870.0 1115.0,848.7 1130.0,847.5 1149.9,855.0 1169.9,872.5 1189.9,897.4 1209.9,924.9 1227.4,952.4 1244.9,974.9 1271.3,1005.0"/>
<polyline stroke="#0a0ac0" stroke-width="2.92" fill="none" stroke-dasharray="10.8 4.67" points="1048.2,924.0 1065.0,902.4 1085.0,872.5 1115.0,850.0 1135.0,850.0 1157.4,865.0 1179.9,884.9 1199.9,909.9 1219.9,934.9 1239.9,964.9 1259.9,989.9 1271.3,1005.0"/>
<polyline stroke="#0a0ac0" stroke-width="2.92" fill="none" stroke-dasharray="10.8 4.67" points="1049.2,943.7 1065.0,977.4 1085.0,972.4 1115.0,959.9 1144.9,952.4 1164.9,952.4 1184.9,954.9 1202.4,962.4 1219.9,977.4 1239.9,997.4 1245.8,1005.0"/>
<polyline stroke="#0a0ac0" stroke-width="2.92" fill="none" stroke-dasharray="10.8 4.67" points="1066.2,977.4 1082.5,984.9 1115.0,974.9 1144.9,967.4 1164.9,964.9 1184.9,967.4 1204.9,974.9 1224.9,987.4 1242.4,1004.9"/>
<polyline stroke="#0a0ac0" stroke-width="2.92" fill="none" stroke-dasharray="10.8 4.67" points="1049.2,943.7 1065.0,977.4 1077.5,1004.9 1077.5,1005.0"/>
<polyline stroke="#0a0ac0" stroke-width="2.92" fill="none" stroke-dasharray="10.8 4.67" points="1047.7,998.1 1049.2,998.6 1060.0,992.4 1066.2,977.4"/>
<polyline stroke="#0a0ac0" stroke-width="2.92" fill="none" stroke-dasharray="10.8 4.67" points="1047.7,1022.9 1049.2,1022.5 1065.0,1042.5 1077.5,1080.0 1090.0,1122.4 1115.0,1212.4 1125.0,1249.9 1132.5,1279.9"/>
<polyline stroke="#0a0ac0" stroke-width="2.92" fill="none" stroke-dasharray="10.8 4.67" points="1067.5,1005.0 1082.5,1030.0 1095.0,1070.0 1107.5,1117.4 1120.0,1167.4 1132.5,1217.4 1144.9,1279.9"/>
<polyline stroke="#0a0ac0" stroke-width="2.92" fill="none" stroke-dasharray="10.8 4.67" points="1262.4,1002.5 1264.9,1005.0 1291.4,1038.5 1310.1,1059.0 1328.9,1077.7 1347.3,1092.7 1366.1,1102.0 1373.1,1102.5 1389.8,1097.5 1409.8,1080.0 1429.8,1055.0 1452.3,1031.2 1469.8,1037.5 1487.3,1060.0 1497.0,1092.5"/>
<polyline stroke="#0a0ac0" stroke-width="2.92" fill="none" stroke-dasharray="10.8 4.67" points="1262.4,1002.5 1289.9,1042.5 1314.9,1080.0 1334.9,1117.4 1354.8,1147.4 1373.1,1162.4 1389.8,1144.9 1409.8,1105.0 1427.3,1070.0 1439.8,1045.0 1454.8,1040.0 1469.8,1052.5 1484.8,1077.5 1497.0,1105.0"/>
<polyline stroke="#0a0ac0" stroke-width="2.92" fill="none" stroke-dasharray="10.8 4.67" points="1242.4,1004.9 1259.9,1037.5 1279.9,1080.0 1297.4,1117.4 1312.4,1149.9 1329.9,1179.9 1347.3,1204.9 1362.3,1219.9 1373.1,1217.4 1389.8,1234.9 1404.8,1249.9 1419.8,1269.9 1427.3,1279.9"/>
<polyline stroke="#0a0ac0" stroke-width="2.92" fill="none" stroke-dasharray="10.8 4.67" points="1245.8,1005.0 1264.9,1050.0 1284.9,1100.0 1302.4,1144.9 1319.9,1184.9 1339.9,1217.4 1357.3,1244.9 1373.1,1237.4 1389.8,1237.4 1414.8,1242.4 1439.8,1254.9 1464.8,1269.9 1479.8,1279.9"/>
<polyline stroke="#0a0ac0" stroke-width="2.92" fill="none" stroke-dasharray="10.8 4.67" points="1695.0,879.8 1704.3,862.5 1726.8,841.2 1734.3,830.0 1751.8,835.0 1771.8,852.5 1788.9,880.0"/>
<polyline stroke="#0a0ac0" stroke-width="2.92" fill="none" stroke-dasharray="10.8 4.67" points="1814.2,920.9 1815.5,923.1"/>
<polyline stroke="#0a0ac0" stroke-width="2.92" fill="none" stroke-dasharray="10.8 4.67" points="1696.8,880.0 1721.8,857.5 1744.3,851.2 1761.8,855.0 1776.8,870.0 1784.3,879.3"/>
<polyline stroke="#0a0ac0" stroke-width="2.92" fill="none" stroke-dasharray="10.8 4.67" points="1814.2,921.6 1815.5,923.1"/>
<polyline stroke="#0a0ac0" stroke-width="2.92" fill="none" stroke-dasharray="10.8 4.67" points="1814.3,954.5 1815.0,951.7"/>
<polyline stroke="#0a0ac0" stroke-width="2.92" fill="none" stroke-dasharray="10.8 4.67" points="1815.0,951.7 1814.7,949.1"/>
<polyline stroke="#0a0ac0" stroke-width="2.92" fill="none" stroke-dasharray="10.8 4.67" points="1814.2,1000.1 1814.7,994.5"/>
<polyline stroke="#0a0ac0" stroke-width="2.92" fill="none" stroke-dasharray="10.8 4.67" points="1497.0,1092.5 1501.9,1109.9 1526.9,1184.9 1534.9,1199.9 1539.6,1200.8"/>
<polyline stroke="#0a0ac0" stroke-width="2.92" fill="none" stroke-dasharray="10.8 4.67" points="1497.0,1105.0 1499.4,1117.4 1502.3,1125.5 1514.4,1159.9 1526.9,1189.9 1534.9,1204.9 1539.6,1201.3"/>
<polyline stroke="#0a0ac0" stroke-width="2.92" fill="none" stroke-dasharray="10.8 4.67" points="1815.0,1026.7 1814.7,1024.5"/>
<polyline stroke="#0a0ac0" stroke-width="2.92" fill="none" stroke-dasharray="10.8 4.67" points="1814.5,1028.6 1815.0,1026.7"/>
<polyline stroke="#0a0ac0" stroke-width="2.92" fill="none" stroke-dasharray="10.8 4.67" points="913.6,952.7 940.8,953.6 967.7,954.2 994.5,952.2 1021.3,947.5 1048.2,943.2"/>
<polyline stroke="#0a0ac0" stroke-width="2.92" fill="none" stroke-dasharray="10.8 4.67" points="913.6,978.9 940.8,979.7 967.7,980.4 981.1,979.1 1001.2,971.0 1021.3,958.9 1040.1,946.8 1048.2,943.2"/>
<polyline stroke="#0a0ac0" stroke-width="2.92" fill="none" stroke-dasharray="10.8 4.67" points="913.6,1005.3 934.1,1002.6 954.2,995.2 967.7,990.5 981.1,988.5 994.5,989.8 1014.6,993.8 1034.8,996.5 1047.7,998.1"/>
<polyline stroke="#0a0ac0" stroke-width="2.92" fill="none" stroke-dasharray="10.8 4.67" points="913.1,1021.3 940.8,1021.7 967.7,1022.0 994.5,1022.7 1021.3,1023.1 1047.7,1022.9"/>
<polyline stroke="#0a0ac0" stroke-width="2.92" fill="none" stroke-dasharray="10.8 4.67" points="913.6,1025.0 940.8,1027.4 967.7,1026.0 994.5,1024.7 1021.3,1024.0 1048.2,1023.4"/>
<polyline stroke="#0a0ac0" stroke-width="2.92" fill="none" stroke-dasharray="10.8 4.67" points="913.1,1041.4 940.8,1040.8 967.7,1038.1 994.5,1034.1 1021.3,1028.7 1048.2,1023.4"/>
<polyline stroke="#0a0ac0" stroke-width="2.92" fill="none" stroke-dasharray="10.8 4.67" points="833.6,1005.0 840.0,990.0 848.0,975.0 856.0,963.0 866.0,956.0 877.4,954.9"/>
<polyline stroke="#0a0ac0" stroke-width="2.92" fill="none" stroke-dasharray="10.8 4.67" points="1695.0,879.8 1675.4,907.0 1661.9,934.0 1651.1,964.5 1633.1,1029.3 1622.3,1065.3 1611.5,1095.9 1604.9,1119.5"/>
<polyline stroke="#0a0ac0" stroke-width="2.92" fill="none" stroke-dasharray="10.8 4.67" points="1696.8,880.0 1681.7,912.4 1660.1,969.9 1647.5,1005.9 1638.5,1038.3 1625.9,1076.1 1615.1,1104.9 1610.1,1119.5"/>
<polyline stroke="#0a0ac0" stroke-width="2.92" fill="none" stroke-dasharray="10.8 4.67" points="1663.0,1118.9 1679.9,1092.3 1697.9,1070.7 1715.9,1045.5 1733.9,1022.1 1751.8,997.8 1769.8,977.1 1805.8,952.0 1814.7,949.1"/>
<polyline stroke="#0a0ac0" stroke-width="2.92" fill="none" stroke-dasharray="10.8 4.67" points="1663.0,1118.9 1680.8,1093.2 1698.8,1071.6 1716.8,1046.4 1734.8,1023.0 1751.8,999.6 1769.8,986.1 1787.8,983.4 1805.8,969.9 1814.3,954.5"/>
<polyline stroke="#0a0ac0" stroke-width="2.92" fill="none" stroke-dasharray="10.8 4.67" points="1738.3,1119.5 1751.8,1086.9 1769.8,1050.9 1787.8,1016.7 1805.8,995.1 1814.7,994.5"/>
<polyline stroke="#0a0ac0" stroke-width="2.92" fill="none" stroke-dasharray="10.8 4.67" points="1747.4,1119.5 1760.8,1086.9 1778.8,1050.9 1796.8,1020.3 1814.2,1000.1"/>
<polyline stroke="#0a0ac0" stroke-width="2.92" fill="none" stroke-dasharray="10.8 4.67" points="1772.0,1119.5 1780.6,1086.9 1795.0,1050.9 1814.7,1024.5"/>
<polyline stroke="#0a0ac0" stroke-width="2.92" fill="none" stroke-dasharray="10.8 4.67" points="1788.9,880.0 1802.2,901.6 1814.2,920.9"/>
<polyline stroke="#0a0ac0" stroke-width="2.92" fill="none" stroke-dasharray="10.8 4.67" points="1610.1,1119.5 1606.8,1127.6 1595.4,1161.9 1583.9,1191.4 1574.1,1220.8 1564.3,1250.2 1552.9,1279.6"/>
<polyline stroke="#0a0ac0" stroke-width="2.92" fill="none" stroke-dasharray="10.8 4.67" points="1604.9,1119.5 1602.7,1127.6 1591.3,1161.9 1579.0,1194.6 1569.2,1224.1 1560.2,1251.8 1552.9,1279.6"/>
<polyline stroke="#0a0ac0" stroke-width="2.92" fill="none" stroke-dasharray="10.8 4.67" points="1539.6,1200.8 1554.5,1203.6 1570.9,1197.9 1583.9,1189.7 1595.4,1179.9 1608.5,1168.5 1623.2,1157.0 1644.4,1137.4 1659.0,1120.0"/>
<polyline stroke="#0a0ac0" stroke-width="2.92" fill="none" stroke-dasharray="10.8 4.67" points="1539.6,1201.3 1554.5,1198.7 1570.9,1193.8 1582.3,1186.5 1593.8,1176.6 1606.8,1166.0 1621.5,1154.6 1642.8,1135.8 1659.0,1120.0"/>
<polyline stroke="#0a0ac0" stroke-width="2.92" fill="none" stroke-dasharray="10.8 4.67" points="1642.8,1279.6 1662.4,1248.6 1682.0,1219.1 1701.7,1189.7 1721.3,1158.7 1739.3,1127.6 1738.3,1119.5"/>
<polyline stroke="#0a0ac0" stroke-width="2.92" fill="none" stroke-dasharray="10.8 4.67" points="1654.2,1279.6 1673.9,1245.3 1693.5,1215.9 1713.1,1186.5 1732.7,1155.4 1749.1,1126.0 1747.4,1119.5"/>
<polyline stroke="#0a0ac0" stroke-width="2.92" fill="none" stroke-dasharray="10.8 4.67" points="1740.1,1279.6 1744.2,1245.3 1750.7,1212.6 1758.9,1181.5 1767.0,1147.2 1772.0,1119.5"/>
<polyline stroke="#0a0ac0" stroke-width="2.92" fill="none" stroke-dasharray="10.8 4.67" points="1740.1,1279.6 1749.1,1245.3 1755.6,1212.6 1763.8,1181.5 1771.9,1147.2 1778.8,1120.0"/>
<polyline stroke="#0a6e0a" stroke-width="2.92" fill="none" stroke-dasharray="2.92 4.81" points="147.0,49.0 159.5,56.2 172.0,68.7 184.5,76.2 203.8,82.6 219.2,82.2 233.0,75.3 239.2,70.7 249.2,58.4 256.8,45.3 263.4,31.1 269.1,16.9 276.4,10.0"/>
<polyline stroke="#0a6e0a" stroke-width="2.92" fill="none" stroke-dasharray="2.92 4.81" points="242.5,102.0 252.2,77.6 260.7,56.1 269.9,35.3 276.8,21.5 276.4,10.0"/>
<polyline stroke="#0a6e0a" stroke-width="2.92" fill="none" stroke-dasharray="2.92 4.81" points="322.9,10.0 319.4,19.6 308.3,40.0 293.3,67.2 276.8,92.9 262.2,112.2 227.6,215.1 215.1,262.8 202.5,318.0"/>
<polyline stroke="#0a6e0a" stroke-width="2.92" fill="none" stroke-dasharray="2.92 4.81" points="262.0,66.0 273.7,57.6 285.3,37.3 296.4,17.3 300.0,10.0"/>
<polyline stroke="#0a6e0a" stroke-width="2.92" fill="none" stroke-dasharray="2.92 4.81" points="508.9,12.5 520.2,28.8 532.7,36.3"/>
<polyline stroke="#0a6e0a" stroke-width="2.92" fill="none" stroke-dasharray="2.92 4.81" points="539.6,15.0 542.7,53.8 550.2,95.2 552.8,114.0 559.0,141.5 560.9,151.8"/>
<polyline stroke="#0a6e0a" stroke-width="2.92" fill="none" stroke-dasharray="2.92 4.81" points="539.6,15.0 544.0,53.8 551.5,95.2 553.4,114.0"/>
<polyline stroke="#0a6e0a" stroke-width="2.92" fill="none" stroke-dasharray="2.92 4.81" points="147.0,49.0 167.0,68.0 184.5,85.0 197.0,98.7 212.0,109.9 222.0,113.7 232.0,111.2 242.5,102.0"/>
<polyline stroke="#0a6e0a" stroke-width="2.92" fill="none" stroke-dasharray="2.92 4.81" points="147.0,18.0 157.0,14.5"/>
<polyline stroke="#0a6e0a" stroke-width="2.92" fill="none" stroke-dasharray="2.92 4.81" points="557.7,153.8 565.2,200.1 574.0,250.2 582.8,287.8 584.3,300.0"/>
<polyline stroke="#0a6e0a" stroke-width="2.92" fill="none" stroke-dasharray="2.92 4.81" points="560.9,151.8 569.0,200.1 579.0,250.2 586.5,287.8 589.6,300.0"/>
<polyline stroke="#0a6e0a" stroke-width="2.92" fill="none" stroke-dasharray="2.92 4.81" points="584.3,300.0 590.1,342.9 600.4,385.8 610.7,420.1 619.3,440.7 627.8,449.3 634.7,451.8 650.1,450.1 675.9,440.7 698.0,425.2"/>
<polyline stroke="#0a6e0a" stroke-width="2.92" fill="none" stroke-dasharray="2.92 4.81" points="589.6,300.0 597.0,334.3 605.5,365.2 615.8,385.8 624.4,399.5 633.0,404.6 643.3,402.9 658.7,395.2 684.4,372.1 699.0,352.3"/>
<polyline stroke="#0a6e0a" stroke-width="2.92" fill="none" stroke-dasharray="2.92 4.81" points="787.4,16.2 792.4,50.0 797.4,75.0 802.4,102.4 812.4,108.7 822.4,122.4 829.9,139.9 837.4,159.9 842.4,174.9"/>
<polyline stroke="#0a6e0a" stroke-width="2.92" fill="none" stroke-dasharray="2.92 4.81" points="807.4,16.2 812.4,45.0 819.9,70.0 832.4,62.5 849.9,40.0 864.9,52.5 879.9,62.5 894.9,55.0 912.3,45.0"/>
<polyline stroke="#0a6e0a" stroke-width="2.92" fill="none" stroke-dasharray="2.92 4.81" points="844.9,16.2 854.9,25.0 864.9,16.2"/>
<polyline stroke="#0a6e0a" stroke-width="2.92" fill="none" stroke-dasharray="2.92 4.81" points="912.3,45.0 894.9,67.5 879.9,95.0 864.9,122.4 849.9,149.9 837.4,172.4 832.4,194.9"/>
<polyline stroke="#0a6e0a" stroke-width="2.92" fill="none" stroke-dasharray="2.92 4.81" points="704.9,335.1 724.9,287.4 749.9,237.4 774.9,187.4 794.9,149.9 804.9,129.9 814.9,149.9 824.9,174.9 834.9,197.4 844.9,224.9 854.9,262.4 862.4,299.9 862.4,335.1"/>
<polyline stroke="#0a6e0a" stroke-width="2.92" fill="none" stroke-dasharray="2.92 4.81" points="764.9,335.1 782.4,299.9 799.9,264.9 814.9,239.9 822.4,232.4 829.9,242.4 837.4,262.4 844.9,287.4 852.4,312.3 862.4,335.1"/>
<polyline stroke="#0a6e0a" stroke-width="2.92" fill="none" stroke-dasharray="2.92 4.81" points="913.8,45.0 922.3,70.0 934.8,104.9 949.8,144.9 964.8,189.9 982.3,237.4 999.8,282.4 1019.8,324.8 1026.3,335.1"/>
<polyline stroke="#0a6e0a" stroke-width="2.92" fill="none" stroke-dasharray="2.92 4.81" points="913.8,45.0 925.3,70.0 937.8,104.9 952.8,144.9 967.8,189.9 985.3,237.4 1002.8,282.4 1022.8,324.8 1026.3,335.1"/>
<polyline stroke="#0a6e0a" stroke-width="2.92" fill="none" stroke-dasharray="2.92 4.81" points="906.1,16.2 912.3,20.0 916.1,16.2"/>
<polyline stroke="#0a6e0a" stroke-width="2.92" fill="none" stroke-dasharray="2.92 4.81" points="699.0,352.3 714.9,327.5 729.9,295.0 744.9,267.5 757.4,230.0"/>
<polyline stroke="#0a6e0a" stroke-width="2.92" fill="none" stroke-dasharray="2.92 4.81" points="712.4,404.9 734.9,379.9 754.9,347.4 774.9,320.0 789.9,290.0 807.4,260.0 819.9,235.0 825.5,230.0"/>
<polyline stroke="#0a6e0a" stroke-width="2.92" fill="none" stroke-dasharray="2.92 4.81" points="825.5,230.0 834.9,267.5 842.4,305.0 852.4,339.9 864.9,372.4 877.4,399.9 892.4,427.4 913.6,442.4 937.3,441.1 962.3,436.1 987.3,427.4 1012.3,412.4 1032.3,389.9 1047.3,366.2 1053.4,364.3"/>
<polyline stroke="#0a6e0a" stroke-width="2.92" fill="none" stroke-dasharray="2.92 4.81" points="837.4,230.0 844.9,267.5 852.4,305.0 862.4,337.4 872.4,374.9 884.9,409.9 899.9,447.4 913.6,468.6 937.3,467.4 962.3,461.1 987.3,449.9 1012.3,429.9 1032.3,407.4 1047.3,387.4 1057.0,382.4"/>
<polyline stroke="#0a6e0a" stroke-width="2.92" fill="none" stroke-dasharray="2.92 4.81" points="981.1,230.0 989.8,267.5 1004.8,305.0 1024.8,337.4 1039.8,354.9 1053.4,364.3"/>
<polyline stroke="#0a6e0a" stroke-width="2.92" fill="none" stroke-dasharray="2.92 4.81" points="981.1,230.0 997.3,267.5 1012.3,305.0 1029.8,334.9 1043.6,360.0"/>
<polyline stroke="#0a6e0a" stroke-width="2.92" fill="none" stroke-dasharray="2.92 4.81" points="1072.5,335.0 1090.0,274.9 1105.0,212.4 1122.5,137.4 1137.5,82.5 1149.9,42.5 1159.9,32.5 1169.9,50.0 1184.9,75.0 1199.9,104.9 1209.9,159.9 1224.9,182.4 1239.9,189.9 1257.4,174.9 1277.4,144.9 1294.9,112.4 1309.9,75.0 1322.4,37.5 1334.9,16.2 1338.6,5.0"/>
<polyline stroke="#0a6e0a" stroke-width="2.92" fill="none" stroke-dasharray="2.92 4.81" points="1077.5,335.0 1095.0,274.9 1115.0,214.9 1135.0,169.9 1149.9,139.9 1164.9,117.4 1182.4,106.2 1194.9,117.4 1204.9,139.9 1214.9,164.9 1224.9,174.9"/>
<polyline stroke="#0a6e0a" stroke-width="2.92" fill="none" stroke-dasharray="2.92 4.81" points="1147.4,152.4 1159.9,157.4 1174.9,174.9 1194.9,177.4 1214.9,172.4 1234.9,154.9 1254.9,132.4 1274.9,104.9 1289.9,75.0 1304.9,40.0 1314.9,16.2 1318.6,5.0"/>
<polyline stroke="#0a6e0a" stroke-width="2.92" fill="none" stroke-dasharray="2.92 4.81" points="1115.0,224.9 1135.0,199.9 1154.9,189.9 1174.9,184.9 1194.9,189.9 1214.9,197.4 1234.9,204.9 1254.9,212.4 1274.9,209.9 1294.9,192.4 1314.9,162.4 1334.9,124.9 1354.8,85.0 1372.5,62.5"/>
<polyline stroke="#0a6e0a" stroke-width="2.92" fill="none" stroke-dasharray="2.92 4.81" points="1372.5,62.5 1387.0,75.0 1402.0,112.4 1414.5,149.9 1427.0,194.9 1442.0,249.9 1454.5,287.4 1472.0,302.3 1489.4,287.4 1501.9,249.9 1516.9,212.4 1534.9,189.9 1551.9,186.2 1584.4,177.4 1621.9,162.4 1659.4,152.4 1678.8,155.1 1694.3,168.6 1707.8,186.1 1717.5,203.5 1727.2,222.9 1736.9,242.3 1742.7,260.0 1761.5,308.7 1773.1,335.8 1784.8,361.0 1796.4,378.5 1808.0,386.3 1816.0,387.0"/>
<polyline stroke="#0a6e0a" stroke-width="2.92" fill="none" stroke-dasharray="2.92 4.81" points="1393.5,16.2 1402.0,50.0 1414.5,100.0 1427.0,162.4 1439.5,224.9 1452.0,274.9 1462.0,312.3 1472.0,322.3 1486.9,312.3 1499.4,279.9 1511.9,237.4 1521.9,212.4 1534.9,152.4 1561.9,147.4 1596.9,134.9 1640.0,89.2 1663.0,68.0 1684.6,50.4 1692.0,48.0 1700.0,50.0 1707.8,64.0 1713.7,85.3 1719.5,108.5 1723.3,131.8 1729.2,155.0 1735.0,180.3 1742.7,203.5 1748.5,228.7 1754.4,260.0 1767.3,306.7 1777.0,335.8 1788.7,361.0 1800.3,382.4 1808.0,386.3 1816.0,387.0"/>
<polyline stroke="#0a6e0a" stroke-width="2.92" fill="none" stroke-dasharray="2.92 4.81" points="1393.5,16.2 1405.0,50.0 1417.5,100.0 1430.0,162.4 1442.5,224.9 1454.5,287.4"/>
<polyline stroke="#0a6e0a" stroke-width="2.92" fill="none" stroke-dasharray="2.92 4.81" points="1696.2,12.0 1700.1,38.8 1704.0,55.0"/>
<polyline stroke="#0a6e0a" stroke-width="2.92" fill="none" stroke-dasharray="2.92 4.81" points="1714.6,12.0 1721.4,48.5 1729.2,77.5 1737.0,106.6 1746.6,135.7 1754.4,164.8 1760.2,193.8 1766.0,222.9 1773.7,260.0 1780.9,287.3 1790.6,316.4 1800.3,339.7 1813.9,366.9 1816.0,368.0"/>
<polyline stroke="#0a6e0a" stroke-width="2.92" fill="none" stroke-dasharray="2.92 4.81" points="1534.9,17.5 1564.4,15.5"/>
<polyline stroke="#0a6e0a" stroke-width="2.92" fill="none" stroke-dasharray="2.92 4.81" points="202.5,318.0 194.5,354.9 184.5,384.9 172.0,414.9 159.5,433.6 147.0,441.1"/>
<polyline stroke="#0a6e0a" stroke-width="2.92" fill="none" stroke-dasharray="2.92 4.81" points="232.0,200.0 219.5,257.5 205.7,317.9 198.2,354.9 189.5,389.9 177.0,424.9 162.0,457.4 147.0,467.4"/>
<polyline stroke="#0a6e0a" stroke-width="2.92" fill="none" stroke-dasharray="2.92 4.81" points="1072.5,335.0 1065.0,367.5 1049.2,387.5 1040.0,395.0"/>
<polyline stroke="#0a6e0a" stroke-width="2.92" fill="none" stroke-dasharray="2.92 4.81" points="1077.5,335.0 1065.0,357.5 1049.2,366.2 1043.6,360.0"/>
<polyline stroke="#0a6e0a" stroke-width="2.92" fill="none" stroke-dasharray="2.92 4.81" points="147.0,875.0 155.7,879.5 164.5,884.9 173.2,891.9 182.2,902.4 191.0,917.4 199.7,934.9 208.5,954.9 217.0,979.9 220.7,1005.0"/>
<polyline stroke="#0a6e0a" stroke-width="2.92" fill="none" stroke-dasharray="2.92 4.81" points="198.2,944.9 215.7,950.4 227.0,947.4 247.0,937.4 271.9,912.4 296.9,889.9 321.9,875.0 346.9,866.2 371.9,865.0 396.9,872.5 421.9,884.9 446.9,904.9 470.8,919.9 479.3,912.4 501.8,903.7 521.8,914.9 536.8,949.9 549.3,992.4 549.8,1005.0"/>
<polyline stroke="#0a6e0a" stroke-width="2.92" fill="none" stroke-dasharray="2.92 4.81" points="227.0,987.4 259.4,972.4 296.9,944.9 334.4,914.9 359.4,899.9 384.4,889.9 401.9,887.4 421.9,892.4 446.9,907.4 470.8,927.4 496.8,954.9 521.8,979.9 546.8,1004.9 549.8,1005.0"/>
<polyline stroke="#0a6e0a" stroke-width="2.92" fill="none" stroke-dasharray="2.92 4.81" points="147.0,1004.9 159.5,997.4 172.0,987.4 192.0,984.9 207.0,992.4 220.7,1005.0"/>
<polyline stroke="#0a6e0a" stroke-width="2.92" fill="none" stroke-dasharray="2.92 4.81" points="346.9,1279.9 371.9,1217.4 396.9,1154.9 421.9,1080.0 439.4,1030.0 456.8,979.9 470.8,949.9"/>
<polyline stroke="#0a6e0a" stroke-width="2.92" fill="none" stroke-dasharray="2.92 4.81" points="147.0,1100.0 157.0,1129.9 172.0,1179.9 184.5,1229.9 189.5,1279.9"/>
<polyline stroke="#0a6e0a" stroke-width="2.92" fill="none" stroke-dasharray="2.92 4.81" points="147.0,1042.5 162.0,1033.7 177.0,1032.5 192.0,1040.0 209.5,1057.5 224.5,1080.0 239.5,1109.9 251.9,1144.9 261.9,1179.9 271.9,1229.9 280.7,1279.9"/>
<polyline stroke="#0a6e0a" stroke-width="2.92" fill="none" stroke-dasharray="2.92 4.81" points="147.0,1080.0 162.0,1076.2 177.0,1076.2 194.5,1085.0 212.0,1109.9 229.5,1144.9 242.0,1179.9 256.9,1224.9 269.4,1279.9"/>
<polyline stroke="#0a6e0a" stroke-width="2.92" fill="none" stroke-dasharray="2.92 4.81" points="209.5,1005.0 227.0,1050.0 242.0,1092.5 256.9,1134.9 271.9,1184.9 280.7,1279.9"/>
<polyline stroke="#0a6e0a" stroke-width="2.92" fill="none" stroke-dasharray="2.92 4.81" points="531.8,1005.0 551.8,1017.5 566.8,1055.0 576.8,1105.0 584.3,1154.9 591.8,1204.9 596.8,1254.9 599.3,1279.9"/>
<polyline stroke="#0a6e0a" stroke-width="2.92" fill="none" stroke-dasharray="2.92 4.81" points="546.8,1017.5 571.8,1035.0 604.0,1062.5"/>
<polyline stroke="#0a6e0a" stroke-width="2.92" fill="none" stroke-dasharray="2.92 4.81" points="652.4,1005.0 665.0,967.4 690.0,909.9 714.9,857.5 739.9,820.0 764.9,797.5 779.9,793.7 802.4,807.5 827.4,837.5 859.9,897.4 872.4,912.4 884.9,892.4 899.8,877.5 913.1,872.5 939.8,880.0 964.8,894.9 995.3,920.0"/>
<polyline stroke="#0a6e0a" stroke-width="2.92" fill="none" stroke-dasharray="2.92 4.81" points="849.1,1005.0 854.9,994.9 869.9,959.9 884.9,919.9 897.3,884.9"/>
<polyline stroke="#0a6e0a" stroke-width="2.92" fill="none" stroke-dasharray="2.92 4.81" points="864.8,1005.0 864.9,1004.9 884.9,1002.4 888.0,1005.0"/>
<polyline stroke="#0a6e0a" stroke-width="2.92" fill="none" stroke-dasharray="2.92 4.81" points="590.0,1050.0 615.0,1060.0 633.0,1063.7 647.5,1010.0 652.4,1005.0"/>
<polyline stroke="#0a6e0a" stroke-width="2.92" fill="none" stroke-dasharray="2.92 4.81" points="590.0,1065.0 615.0,1072.5 633.0,1077.5 650.0,1122.4 665.0,1159.9 680.0,1189.9 694.9,1204.9 707.4,1202.4 729.9,1179.9 752.4,1154.9 774.9,1124.9 794.9,1092.5 814.9,1055.0 829.9,1020.0 834.9,1005.0"/>
<polyline stroke="#0a6e0a" stroke-width="2.92" fill="none" stroke-dasharray="2.92 4.81" points="615.0,1279.9 622.5,1264.9 633.0,1252.4 665.0,1244.9 694.9,1237.4 714.9,1222.4 734.9,1199.9 754.9,1174.9 774.9,1144.9 794.9,1117.4 814.9,1087.5 834.9,1055.0 849.9,1030.0 859.9,1012.5 864.8,1005.0"/>
<polyline stroke="#0a6e0a" stroke-width="2.92" fill="none" stroke-dasharray="2.92 4.81" points="672.5,1262.4 690.0,1279.9"/>
<polyline stroke="#0a6e0a" stroke-width="2.92" fill="none" stroke-dasharray="2.92 4.81" points="811.1,1279.9 819.9,1229.9 834.9,1179.9 849.9,1129.9 864.9,1085.0 877.4,1047.5 889.9,1032.5 899.8,1037.5 909.8,1055.0 913.1,1060.0"/>
<polyline stroke="#0a6e0a" stroke-width="2.92" fill="none" stroke-dasharray="2.92 4.81" points="874.9,1279.9 882.4,1229.9 889.9,1189.9 899.8,1144.9 909.8,1100.0 913.1,1091.6"/>
<polyline stroke="#0a6e0a" stroke-width="2.92" fill="none" stroke-dasharray="2.92 4.81" points="811.1,1279.9 829.9,1229.9 844.9,1179.9 859.9,1129.9 874.9,1087.5 889.9,1055.0 902.3,1042.5 913.1,1045.0"/>
<polyline stroke="#0a6e0a" stroke-width="2.92" fill="none" stroke-dasharray="2.92 4.81" points="913.1,1060.0 914.1,1059.8"/>
<polyline stroke="#0a6e0a" stroke-width="2.92" fill="none" stroke-dasharray="2.92 4.81" points="913.1,1098.6 914.1,1098.6"/>
<polyline stroke="#0a6e0a" stroke-width="2.92" fill="none" stroke-dasharray="2.92 4.81" points="913.1,1112.4 964.8,1106.2 992.3,1100.0"/>
<polyline stroke="#0a6e0a" stroke-width="2.92" fill="none" stroke-dasharray="2.92 4.81" points="913.1,1004.8 914.1,1005.1"/>
<polyline stroke="#0a6e0a" stroke-width="2.92" fill="none" stroke-dasharray="2.92 4.81" points="1049.2,942.4 1065.0,919.9 1085.0,889.9 1102.5,872.5 1117.5,866.2 1135.0,870.0 1152.4,882.4 1172.4,904.9 1189.9,934.9 1209.9,972.4 1227.4,1004.9 1226.6,1005.0"/>
<polyline stroke="#0a6e0a" stroke-width="2.92" fill="none" stroke-dasharray="2.92 4.81" points="1049.2,956.2 1065.0,939.9 1085.0,919.9 1105.0,904.9 1127.5,899.9 1144.9,902.4 1162.4,912.4 1177.4,929.9 1194.9,954.9 1214.9,984.9 1226.6,1005.0"/>
<polyline stroke="#0a6e0a" stroke-width="2.92" fill="none" stroke-dasharray="2.92 4.81" points="1049.2,956.2 1065.0,959.9 1090.0,952.4 1115.0,947.4 1140.0,946.2 1164.9,949.9 1184.9,959.9 1199.9,974.9 1209.9,994.9 1211.9,1005.0"/>
<polyline stroke="#0a6e0a" stroke-width="2.92" fill="none" stroke-dasharray="2.92 4.81" points="1048.7,991.8 1056.2,1005.0"/>
<polyline stroke="#0a6e0a" stroke-width="2.92" fill="none" stroke-dasharray="2.92 4.81" points="1047.7,1086.0 1049.2,1087.5 1060.0,1100.0 1072.5,1129.9 1085.0,1167.4 1104.7,1241.4 1113.7,1279.9"/>
<polyline stroke="#0a6e0a" stroke-width="2.92" fill="none" stroke-dasharray="2.92 4.81" points="1047.7,1058.4 1049.2,1056.2 1065.0,1080.0 1077.5,1117.4 1090.0,1159.9 1102.5,1204.9 1110.0,1242.4 1113.7,1279.9"/>
<polyline stroke="#0a6e0a" stroke-width="2.92" fill="none" stroke-dasharray="2.92 4.81" points="1049.2,1022.5 1065.0,1035.0 1090.0,1052.5 1115.0,1046.2 1144.9,1036.2 1177.4,1028.7 1199.9,1027.5 1214.9,1030.0 1229.9,1055.0 1244.9,1092.5 1259.9,1129.9 1274.9,1167.4 1287.4,1204.9 1299.9,1242.4 1307.4,1279.9"/>
<polyline stroke="#0a6e0a" stroke-width="2.92" fill="none" stroke-dasharray="2.92 4.81" points="1211.9,1005.0 1219.9,1035.0 1234.9,1075.0 1252.4,1117.4 1269.9,1162.4 1287.4,1204.9 1299.9,1242.4 1307.4,1279.9"/>
<polyline stroke="#0a6e0a" stroke-width="2.92" fill="none" stroke-dasharray="2.92 4.81" points="1232.4,1005.0 1254.9,1055.0 1274.9,1105.0 1294.9,1149.9 1314.9,1184.9 1334.9,1204.9 1354.8,1212.4 1373.1,1212.4 1387.3,1204.9"/>
<polyline stroke="#0a6e0a" stroke-width="2.92" fill="none" stroke-dasharray="2.92 4.81" points="1239.9,1030.0 1259.9,1080.0 1279.9,1124.9 1299.9,1164.9 1319.9,1199.9 1339.9,1229.9 1354.8,1254.9 1364.8,1274.9 1373.1,1277.4 1389.8,1254.9 1404.8,1217.4 1419.8,1174.9 1434.8,1134.9 1449.8,1114.9 1464.8,1117.4 1479.8,1134.9 1492.3,1167.4 1497.0,1179.9"/>
<polyline stroke="#0a6e0a" stroke-width="2.92" fill="none" stroke-dasharray="2.92 4.81" points="1373.1,1212.4 1389.8,1199.9 1404.8,1164.9 1419.8,1129.9 1434.8,1109.9 1452.3,1098.7 1469.8,1105.0 1487.3,1129.9 1497.0,1152.4"/>
<polyline stroke="#0a6e0a" stroke-width="2.92" fill="none" stroke-dasharray="2.92 4.81" points="1716.2,879.9 1731.8,862.5 1746.8,862.5 1766.8,872.5 1774.2,879.9"/>
<polyline stroke="#0a6e0a" stroke-width="2.92" fill="none" stroke-dasharray="2.92 4.81" points="1814.2,940.6 1814.7,942.7"/>
<polyline stroke="#0a6e0a" stroke-width="2.92" fill="none" stroke-dasharray="2.92 4.81" points="1693.3,879.7 1704.3,855.0 1731.8,837.5 1751.8,842.5 1771.8,857.5 1789.3,879.3"/>
<polyline stroke="#0a6e0a" stroke-width="2.92" fill="none" stroke-dasharray="2.92 4.81" points="1814.2,940.6 1815.5,944.9"/>
<polyline stroke="#0a6e0a" stroke-width="2.92" fill="none" stroke-dasharray="2.92 4.81" points="1814.2,994.9 1815.5,992.4"/>
<polyline stroke="#0a6e0a" stroke-width="2.92" fill="none" stroke-dasharray="2.92 4.81" points="1497.0,1179.9 1506.9,1229.9 1513.8,1279.9"/>
<polyline stroke="#0a6e0a" stroke-width="2.92" fill="none" stroke-dasharray="2.92 4.81" points="1497.0,1152.4 1504.4,1192.4 1511.9,1242.4 1513.8,1279.9"/>
<polyline stroke="#0a6e0a" stroke-width="2.92" fill="none" stroke-dasharray="2.92 4.81" points="1814.2,1021.3 1815.5,1025.0"/>
<polyline stroke="#0a6e0a" stroke-width="2.92" fill="none" stroke-dasharray="2.92 4.81" points="1814.2,1085.4 1815.5,1086.2"/>
<polyline stroke="#0a6e0a" stroke-width="2.92" fill="none" stroke-dasharray="2.92 4.81" points="1814.2,1090.5 1815.5,1086.2"/>
<polyline stroke="#0a6e0a" stroke-width="2.92" fill="none" stroke-dasharray="2.92 4.81" points="913.1,1004.8 940.8,1004.6 967.7,1005.9 987.8,1005.9 1007.9,999.2 1028.1,995.2 1048.7,991.8"/>
<polyline stroke="#0a6e0a" stroke-width="2.92" fill="none" stroke-dasharray="2.92 4.81" points="913.0,1076.4 954.2,1071.7 981.1,1065.0 1007.9,1056.9 1034.8,1048.9 1048.2,1040.8"/>
<polyline stroke="#0a6e0a" stroke-width="2.92" fill="none" stroke-dasharray="2.92 4.81" points="913.1,1091.6 940.8,1090.5 967.7,1085.1 994.5,1078.4 1021.3,1070.3 1047.7,1058.4"/>
<polyline stroke="#0a6e0a" stroke-width="2.92" fill="none" stroke-dasharray="2.92 4.81" points="913.1,1098.6 954.2,1094.5 994.5,1089.1 1021.3,1086.4 1047.7,1086.0"/>
<polyline stroke="#0a6e0a" stroke-width="2.92" fill="none" stroke-dasharray="2.92 4.81" points="995.3,920.0 1007.9,933.4 1028.1,946.8 1041.5,954.9 1048.2,957.6"/>
<polyline stroke="#0a6e0a" stroke-width="2.92" fill="none" stroke-dasharray="2.92 4.81" points="1716.2,879.9 1699.7,907.0 1687.1,939.4 1674.5,973.5 1665.5,1002.3 1647.5,1067.1 1631.9,1119.5"/>
<polyline stroke="#0a6e0a" stroke-width="2.92" fill="none" stroke-dasharray="2.92 4.81" points="1693.3,879.7 1681.7,910.6 1672.7,939.4 1662.8,973.5 1654.7,1004.1 1638.5,1068.9 1630.4,1095.9 1627.3,1119.5"/>
<polyline stroke="#0a6e0a" stroke-width="2.92" fill="none" stroke-dasharray="2.92 4.81" points="1729.6,1119.5 1748.2,1077.9 1769.8,1041.9 1787.8,1020.3 1805.8,1005.9 1814.2,994.9"/>
<polyline stroke="#0a6e0a" stroke-width="2.92" fill="none" stroke-dasharray="2.92 4.81" points="1735.7,1119.5 1755.4,1081.5 1777.0,1047.3 1795.0,1027.5 1814.2,1021.3"/>
<polyline stroke="#0a6e0a" stroke-width="2.92" fill="none" stroke-dasharray="2.92 4.81" points="1793.8,1119.5 1804.0,1092.3 1814.2,1085.4"/>
<polyline stroke="#0a6e0a" stroke-width="2.92" fill="none" stroke-dasharray="2.92 4.81" points="1774.2,879.9 1795.0,910.6 1814.7,942.7"/>
<polyline stroke="#0a6e0a" stroke-width="2.92" fill="none" stroke-dasharray="2.92 4.81" points="1631.9,1119.5 1631.4,1122.7 1621.5,1158.7 1611.7,1194.6 1601.9,1229.0 1595.4,1253.5 1593.3,1279.6"/>
<polyline stroke="#0a6e0a" stroke-width="2.92" fill="none" stroke-dasharray="2.92 4.81" points="1627.3,1119.5 1626.5,1127.6 1616.6,1165.2 1606.8,1201.2 1598.7,1233.9 1593.3,1279.6"/>
<polyline stroke="#0a6e0a" stroke-width="2.92" fill="none" stroke-dasharray="2.92 4.81" points="1638.7,1279.6 1654.2,1246.9 1673.9,1217.5 1693.5,1188.1 1713.1,1155.4 1731.1,1122.7 1729.6,1119.5"/>
<polyline stroke="#0a6e0a" stroke-width="2.92" fill="none" stroke-dasharray="2.92 4.81" points="1638.7,1279.6 1660.8,1245.3 1680.4,1215.9 1700.0,1184.8 1719.6,1153.8 1736.0,1122.7 1735.7,1119.5"/>
<polyline stroke="#0a6e0a" stroke-width="2.92" fill="none" stroke-dasharray="2.92 4.81" points="1710.6,1279.6 1719.6,1245.3 1732.7,1214.2 1745.8,1183.2 1758.9,1152.1 1773.6,1120.0"/>
<polyline stroke="#0a6e0a" stroke-width="2.92" fill="none" stroke-dasharray="2.92 4.81" points="1710.6,1279.6 1726.2,1246.9 1739.3,1215.9 1752.3,1184.8 1763.8,1155.4 1775.2,1122.7 1773.6,1120.0"/>
<polyline stroke="#0a6e0a" stroke-width="2.92" fill="none" stroke-dasharray="2.92 4.81" points="1762.1,1279.6 1763.8,1245.3 1768.7,1212.6 1775.2,1181.5 1783.4,1152.1 1791.6,1122.7 1793.8,1119.5"/>
<polyline stroke="#0a6e0a" stroke-width="2.92" fill="none" stroke-dasharray="2.92 4.81" points="1762.1,1279.6 1770.3,1245.3 1776.9,1212.6 1785.0,1181.5 1793.2,1152.1 1801.4,1122.7 1802.0,1120.0"/>
</g>
<g stroke="#808080" stroke-width="6.25">
<line x1="471.0" y1="14.9" x2="471.0" y2="1279.8"/>
<line x1="633.2" y1="14.9" x2="633.2" y2="1279.8"/>
<line x1="913.2" y1="14.9" x2="913.2" y2="1279.8"/>
<line x1="1049.3" y1="14.9" x2="1049.3" y2="1279.8"/>
<line x1="1373.0" y1="14.9" x2="1373.0" y2="1279.8"/>
<line x1="1535.0" y1="14.9" x2="1535.0" y2="1279.8"/>
</g>
<rect x="147.0" y="14.9" width="1668.7" height="1264.8999999999999" fill="none" stroke="#000" stroke-width="3.33" stroke-linejoin="miter"/>
<g stroke="#000" stroke-width="3.33">
<line x1="132.42" y1="14.90" x2="147.0" y2="14.90"/>
<line x1="132.42" y1="209.50" x2="147.0" y2="209.50"/>
<line x1="132.42" y1="404.10" x2="147.0" y2="404.10"/>
<line x1="132.42" y1="598.70" x2="147.0" y2="598.70"/>
<line x1="132.42" y1="793.30" x2="147.0" y2="793.30"/>
<line x1="132.42" y1="987.90" x2="147.0" y2="987.90"/>
<line x1="132.42" y1="1182.50" x2="147.0" y2="1182.50"/>
<line x1="147.0" y1="1279.8" x2="147.0" y2="1294.38"/>
<line x1="471.0" y1="1279.8" x2="471.0" y2="1294.38"/>
<line x1="633.2" y1="1279.8" x2="633.2" y2="1294.38"/>
<line x1="913.2" y1="1279.8" x2="913.2" y2="1294.38"/>
<line x1="1049.3" y1="1279.8" x2="1049.3" y2="1294.38"/>
<line x1="1373.0" y1="1279.8" x2="1373.0" y2="1294.38"/>
<line x1="1535.0" y1="1279.8" x2="1535.0" y2="1294.38"/>
<line x1="1815.7" y1="1279.8" x2="1815.7" y2="1294.38"/>
</g>
<g font-size="41.67" fill="#000" text-anchor="end">
<text x="117.8" y="30.10">8</text>
<text x="117.8" y="224.70">6</text>
<text x="117.8" y="419.30">4</text>
<text x="117.8" y="613.90">2</text>
<text x="117.8" y="808.50">0</text>
<text x="117.8" y="1003.10">−2</text>
<text x="117.8" y="1197.70">−4</text>
</g>
<g font-size="41.67" fill="#000" text-anchor="middle">
<text x="146.3" y="1337.9" font-size="43.3">Γ</text>
<text x="471.0" y="1340.9">M</text>
<text x="633.2" y="1340.9">K</text>
<text x="912.5" y="1337.9" font-size="43.3">Γ</text>
<text x="1049.3" y="1340.9">A</text>
<text x="1373.0" y="1340.9">H</text>
<text x="1535.0" y="1340.9">L</text>
<text x="1815.7" y="1340.9">A</text>
</g>
<text font-size="41.67" fill="#000" text-anchor="middle" transform="translate(32.2,648) rotate(-90)">energies [eV]</text>
<rect x="167.9" y="549.1" width="277.0" height="195.8" rx="8.3" ry="8.3" fill="#fff" fill-opacity="0.8" stroke="#cccccc" stroke-width="3.33"/>
<line x1="183.5" y1="582.5" x2="268.5" y2="582.5" stroke="#e00a0a" stroke-width="2.92" fill="none"/>
<text x="301.1" y="597.0" font-size="41.67" fill="#000">blyp</text>
<line x1="183.5" y1="644.0" x2="268.5" y2="644.0" stroke="#0a0ac0" stroke-width="2.92" fill="none" stroke-dasharray="10.8 4.67"/>
<text x="301.1" y="658.0" font-size="41.67" fill="#000">tb09</text>
<line x1="183.5" y1="705.2" x2="268.5" y2="705.2" stroke="#0a6e0a" stroke-width="2.92" fill="none" stroke-dasharray="2.92 4.81"/>
<text x="301.1" y="718.8" font-size="41.67" fill="#000">hse06</text>
</svg></body></html>
